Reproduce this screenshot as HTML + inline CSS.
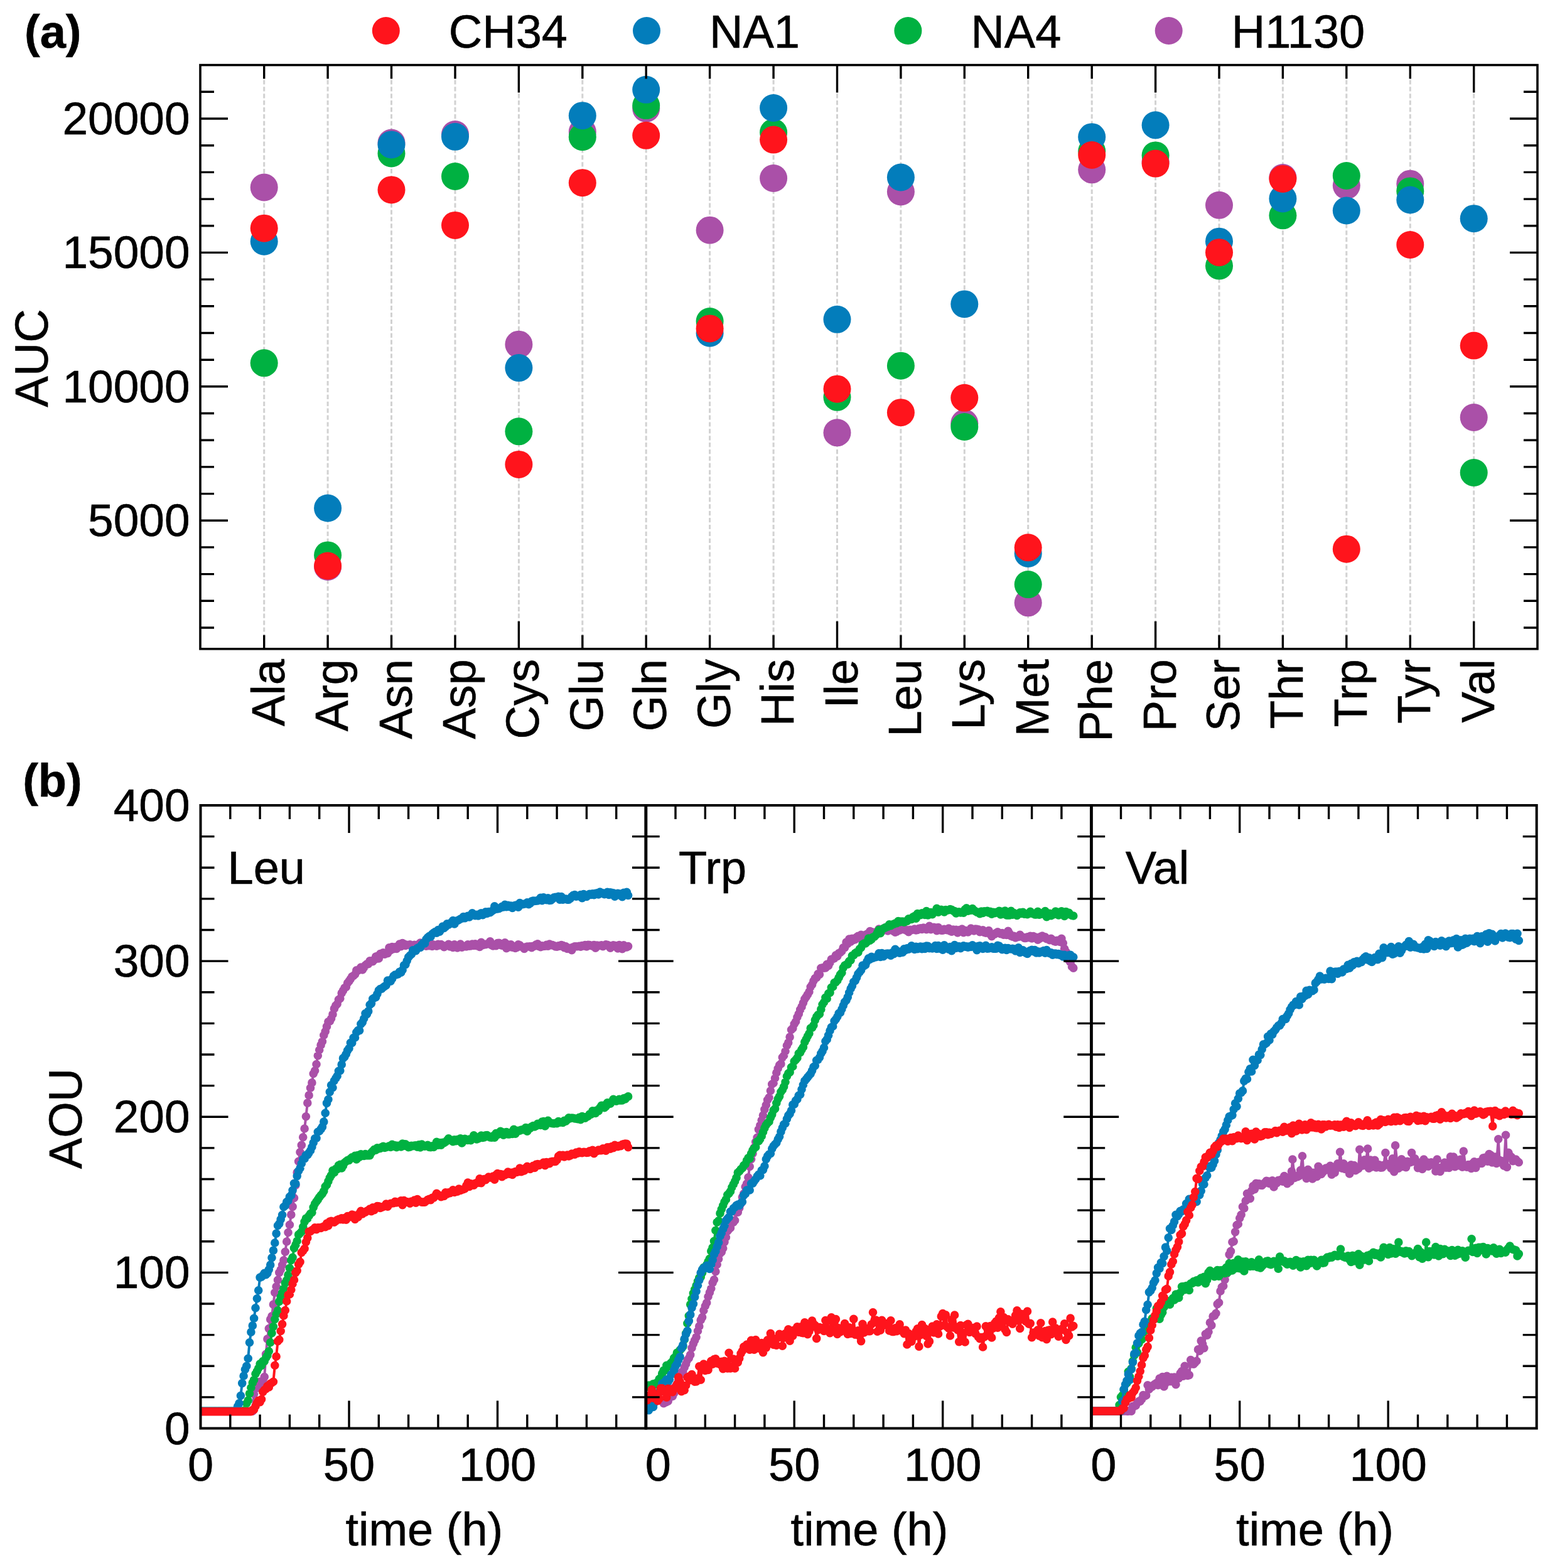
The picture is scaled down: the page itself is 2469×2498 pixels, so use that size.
<!DOCTYPE html>
<html><head><meta charset="utf-8"><title>AUC and AOU plots</title>
<style>html,body{margin:0;padding:0;background:#fff;}body{width:2469px;height:2498px;overflow:hidden;}svg{display:block;}</style>
</head><body>
<svg width="2469" height="2498" viewBox="0 0 2469 2498" font-family="'Liberation Sans', Arial, Helvetica, sans-serif" font-size="74" fill="#000"><defs><style>text{stroke:#000;stroke-width:0.6px}</style><clipPath id="c0"><rect x="319.5" y="1283" width="709.5" height="992.5"/></clipPath><clipPath id="c1"><rect x="1028.7" y="1283" width="709.5" height="992.5"/></clipPath><clipPath id="c2"><rect x="1738.2" y="1283" width="709.5" height="992.5"/></clipPath></defs><rect width="2469" height="2498" fill="#fff"/><path d="M420.7 105.6V1031.8M522.1 105.6V1031.8M623.5 105.6V1031.8M725 105.6V1031.8M826.4 105.6V1031.8M927.8 105.6V1031.8M1029.2 105.6V1031.8M1130.6 105.6V1031.8M1232.1 105.6V1031.8M1333.5 105.6V1031.8M1434.9 105.6V1031.8M1536.3 105.6V1031.8M1637.7 105.6V1031.8M1739.2 105.6V1031.8M1840.6 105.6V1031.8M1942 105.6V1031.8M2043.4 105.6V1031.8M2144.8 105.6V1031.8M2246.3 105.6V1031.8M2347.7 105.6V1031.8" stroke="#d2d2d2" stroke-width="3" stroke-dasharray="7.2 3.7" fill="none"/><g fill="#aa50a8"><circle cx="420.7" cy="298.5" r="22"/><circle cx="522.1" cy="903" r="22"/><circle cx="623.5" cy="227.5" r="22"/><circle cx="725" cy="214" r="22"/><circle cx="826.4" cy="548.7" r="22"/><circle cx="927.8" cy="210" r="22"/><circle cx="1029.2" cy="173" r="22"/><circle cx="1130.6" cy="366.7" r="22"/><circle cx="1232.1" cy="284" r="22"/><circle cx="1333.5" cy="689.3" r="22"/><circle cx="1434.9" cy="305.4" r="22"/><circle cx="1536.3" cy="674.2" r="22"/><circle cx="1637.7" cy="960.3" r="22"/><circle cx="1739.2" cy="270.3" r="22"/><circle cx="1840.6" cy="258" r="22"/><circle cx="1942" cy="326.8" r="22"/><circle cx="2043.4" cy="283" r="22"/><circle cx="2144.8" cy="295.6" r="22"/><circle cx="2246.3" cy="292.7" r="22"/><circle cx="2347.7" cy="665" r="22"/></g><g fill="#00b141"><circle cx="420.7" cy="578.3" r="22"/><circle cx="522.1" cy="884.4" r="22"/><circle cx="623.5" cy="244.5" r="22"/><circle cx="725" cy="281" r="22"/><circle cx="826.4" cy="687.3" r="22"/><circle cx="927.8" cy="218.2" r="22"/><circle cx="1029.2" cy="168.1" r="22"/><circle cx="1130.6" cy="512" r="22"/><circle cx="1232.1" cy="211" r="22"/><circle cx="1333.5" cy="632.8" r="22"/><circle cx="1434.9" cy="582.7" r="22"/><circle cx="1536.3" cy="680" r="22"/><circle cx="1637.7" cy="931.1" r="22"/><circle cx="1739.2" cy="241" r="22"/><circle cx="1840.6" cy="247.4" r="22"/><circle cx="1942" cy="423.6" r="22"/><circle cx="2043.4" cy="343.3" r="22"/><circle cx="2144.8" cy="280" r="22"/><circle cx="2246.3" cy="304.4" r="22"/><circle cx="2347.7" cy="753" r="22"/></g><g fill="#037dbb"><circle cx="420.7" cy="384.7" r="22"/><circle cx="522.1" cy="809.5" r="22"/><circle cx="623.5" cy="230.4" r="22"/><circle cx="725" cy="217.8" r="22"/><circle cx="826.4" cy="586.1" r="22"/><circle cx="927.8" cy="184.2" r="22"/><circle cx="1029.2" cy="142.8" r="22"/><circle cx="1130.6" cy="530.7" r="22"/><circle cx="1232.1" cy="172" r="22"/><circle cx="1333.5" cy="508.8" r="22"/><circle cx="1434.9" cy="282.5" r="22"/><circle cx="1536.3" cy="484.4" r="22"/><circle cx="1637.7" cy="882" r="22"/><circle cx="1739.2" cy="218.2" r="22"/><circle cx="1840.6" cy="199.3" r="22"/><circle cx="1942" cy="384.7" r="22"/><circle cx="2043.4" cy="316.5" r="22"/><circle cx="2144.8" cy="335.5" r="22"/><circle cx="2246.3" cy="318.5" r="22"/><circle cx="2347.7" cy="348.2" r="22"/></g><g fill="#ff141c"><circle cx="420.7" cy="363.7" r="22"/><circle cx="522.1" cy="901.5" r="22"/><circle cx="623.5" cy="302.4" r="22"/><circle cx="725" cy="358.9" r="22"/><circle cx="826.4" cy="739.9" r="22"/><circle cx="927.8" cy="291.2" r="22"/><circle cx="1029.2" cy="215.8" r="22"/><circle cx="1130.6" cy="523.4" r="22"/><circle cx="1232.1" cy="222.6" r="22"/><circle cx="1333.5" cy="619.7" r="22"/><circle cx="1434.9" cy="657.2" r="22"/><circle cx="1536.3" cy="633.8" r="22"/><circle cx="1637.7" cy="872.3" r="22"/><circle cx="1739.2" cy="247" r="22"/><circle cx="1840.6" cy="260.6" r="22"/><circle cx="1942" cy="402.2" r="22"/><circle cx="2043.4" cy="284.9" r="22"/><circle cx="2144.8" cy="874.7" r="22"/><circle cx="2246.3" cy="390" r="22"/><circle cx="2347.7" cy="550.6" r="22"/></g><path d="M420.7 103.6v22M420.7 1033.8v-22M522.1 103.6v22M522.1 1033.8v-22M623.5 103.6v22M623.5 1033.8v-22M725 103.6v22M725 1033.8v-22M826.4 103.6v44M826.4 1033.8v-44M927.8 103.6v22M927.8 1033.8v-22M1029.2 103.6v22M1029.2 1033.8v-22M1130.6 103.6v22M1130.6 1033.8v-22M1232.1 103.6v22M1232.1 1033.8v-22M1333.5 103.6v44M1333.5 1033.8v-44M1434.9 103.6v22M1434.9 1033.8v-22M1536.3 103.6v22M1536.3 1033.8v-22M1637.7 103.6v22M1637.7 1033.8v-22M1739.2 103.6v22M1739.2 1033.8v-22M1840.6 103.6v44M1840.6 1033.8v-44M1942 103.6v22M1942 1033.8v-22M2043.4 103.6v22M2043.4 1033.8v-22M2144.8 103.6v22M2144.8 1033.8v-22M2246.3 103.6v22M2246.3 1033.8v-22M2347.7 103.6v44M2347.7 1033.8v-44M319 1000h22M2449 1000h-22M319 957.3h22M2449 957.3h-22M319 914.6h22M2449 914.6h-22M319 871.9h22M2449 871.9h-22M319 829.3h44M2449 829.3h-44M319 786.6h22M2449 786.6h-22M319 743.9h22M2449 743.9h-22M319 701.2h22M2449 701.2h-22M319 658.5h22M2449 658.5h-22M319 615.8h44M2449 615.8h-44M319 573.2h22M2449 573.2h-22M319 530.5h22M2449 530.5h-22M319 487.8h22M2449 487.8h-22M319 445.1h22M2449 445.1h-22M319 402.4h44M2449 402.4h-44M319 359.7h22M2449 359.7h-22M319 317.1h22M2449 317.1h-22M319 274.4h22M2449 274.4h-22M319 231.7h22M2449 231.7h-22M319 189h44M2449 189h-44M319 146.3h22M2449 146.3h-22" stroke="#000" stroke-width="3.4" fill="none"/><rect x="319" y="103.6" width="2130" height="930.2" fill="none" stroke="#000" stroke-width="3.6"/><text x="302.5" y="828.8" text-anchor="end" dominant-baseline="central" font-size="73">5000</text><text x="302.5" y="615.3" text-anchor="end" dominant-baseline="central" font-size="73">10000</text><text x="302.5" y="401.9" text-anchor="end" dominant-baseline="central" font-size="73">15000</text><text x="302.5" y="188.5" text-anchor="end" dominant-baseline="central" font-size="73">20000</text><text transform="translate(452.7 1050) rotate(-90)" text-anchor="end">Ala</text><text transform="translate(554.1 1050) rotate(-90)" text-anchor="end">Arg</text><text transform="translate(655.5 1050) rotate(-90)" text-anchor="end">Asn</text><text transform="translate(757 1050) rotate(-90)" text-anchor="end">Asp</text><text transform="translate(858.4 1050) rotate(-90)" text-anchor="end">Cys</text><text transform="translate(959.8 1050) rotate(-90)" text-anchor="end">Glu</text><text transform="translate(1061.2 1050) rotate(-90)" text-anchor="end">Gln</text><text transform="translate(1162.6 1050) rotate(-90)" text-anchor="end">Gly</text><text transform="translate(1264.1 1050) rotate(-90)" text-anchor="end">His</text><text transform="translate(1365.5 1050) rotate(-90)" text-anchor="end">Ile</text><text transform="translate(1466.9 1050) rotate(-90)" text-anchor="end">Leu</text><text transform="translate(1568.3 1050) rotate(-90)" text-anchor="end">Lys</text><text transform="translate(1669.7 1050) rotate(-90)" text-anchor="end">Met</text><text transform="translate(1771.2 1050) rotate(-90)" text-anchor="end">Phe</text><text transform="translate(1872.6 1050) rotate(-90)" text-anchor="end">Pro</text><text transform="translate(1974 1050) rotate(-90)" text-anchor="end">Ser</text><text transform="translate(2075.4 1050) rotate(-90)" text-anchor="end">Thr</text><text transform="translate(2176.8 1050) rotate(-90)" text-anchor="end">Trp</text><text transform="translate(2278.3 1050) rotate(-90)" text-anchor="end">Tyr</text><text transform="translate(2379.7 1050) rotate(-90)" text-anchor="end">Val</text><text transform="translate(76.4 570.5) rotate(-90)" text-anchor="middle">AUC</text><text x="39" y="76" font-weight="bold">(a)</text><circle cx="614.8" cy="49" r="22" fill="#ff141c"/><text x="714.8" y="76">CH34</text><circle cx="1030" cy="49" r="22" fill="#037dbb"/><text x="1130" y="76">NA1</text><circle cx="1446.4" cy="49" r="22" fill="#00b141"/><text x="1546.4" y="76">NA4</text><circle cx="1861.7" cy="49" r="22" fill="#aa50a8"/><text x="1961.7" y="76">H1130</text><g clip-path="url(#c0)"><path d="M319.5 2248.2L321.9 2248.2L324.2 2248.2L326.6 2248.2L329 2248.2L331.3 2248.2L333.7 2248.2L336.1 2248.2L338.4 2248.2L340.8 2248.2L343.1 2248.2L345.5 2248.2L347.9 2248.2L350.2 2248.2L352.6 2248.2L355 2248.2L357.3 2248.2L359.7 2248.2L362.1 2248.2L364.4 2248.2L366.8 2248.2L369.2 2248.2L371.5 2248.2L373.9 2248.2L376.3 2248.2L378.6 2248.2L381 2248.2L383.4 2248.2L385.7 2248.2L388.1 2248.2L390.4 2248.2L392.8 2248.2L395.2 2248.2L397.5 2248.2L399.9 2248.2L402.3 2248.2L404.6 2220.7L407 2212.7L409.4 2210.9L411.7 2206L414.1 2201.4L416.5 2203.9L418.8 2199.9L421.2 2193.6L423.6 2157.4L425.9 2133.1L428.3 2116.6L430.7 2101.9L433 2096.7L435.4 2078.1L437.8 2059.3L440.1 2049.7L442.5 2039.3L444.8 2027.4L447.2 2022.7L449.6 2015.2L451.9 2007.9L454.3 1994.2L456.7 1978L459 1963.5L461.4 1951.2L463.8 1935.1L466.1 1922.4L468.5 1908.5L470.9 1888.1L473.2 1867.9L475.6 1850.3L478 1835.5L480.3 1824.4L482.7 1811.8L485.1 1798L487.4 1778.7L489.8 1757.1L492.1 1744.9L494.5 1733.2L496.9 1724.9L499.2 1710.5L501.6 1705.8L504 1695.5L506.3 1681.7L508.7 1672.8L511.1 1664.9L513.4 1659.3L515.8 1649.2L518.2 1643.3L520.5 1635.4L522.9 1627.7L525.3 1626.9L527.6 1622.8L530 1615.9L532.4 1606.9L534.7 1602L537.1 1599.5L539.4 1592.6L541.8 1590.7L544.2 1582.1L546.5 1578.1L548.9 1573.9L551.3 1572.5L553.6 1566L556 1563.1L558.4 1559.6L560.7 1555.8L563.1 1554.5L565.5 1552.2L567.8 1545.8L570.2 1546.2L572.6 1543.9L574.9 1541L577.3 1544.9L579.7 1541.5L582 1537.9L584.4 1535.8L586.7 1535.6L589.1 1530.9L591.5 1530.7L593.8 1531.6L596.2 1529.2L598.6 1524.1L600.9 1523.4L603.3 1526.9L605.7 1519.6L608 1520.2L610.4 1517.8L612.8 1520.1L615.1 1518.6L617.5 1518.7L619.9 1509.8L622.2 1513.6L624.6 1508.6L627 1511.7L629.3 1508.8L631.7 1511.4L634 1507.7L636.4 1504.1L638.8 1507.7L641.1 1502.6L643.5 1503.8L645.9 1506.4L648.2 1505.3L650.6 1505.3L653 1504.7L655.3 1505.8L657.7 1506.5L660.1 1505.3L662.4 1506.5L664.8 1506.7L667.2 1504L669.5 1502.1L671.9 1507.1L674.2 1504.4L676.6 1506.1L679 1507.1L681.3 1503.8L683.7 1506.8L686.1 1502.9L688.4 1507.5L690.8 1505.1L693.2 1506.2L695.5 1507.1L697.9 1504.4L700.3 1506L702.6 1504.6L705 1506.2L707.4 1508.6L709.7 1506.7L712.1 1506.4L714.5 1504.4L716.8 1507.9L719.2 1506.1L721.5 1509.5L723.9 1504.9L726.3 1508.5L728.6 1510L731 1506.5L733.4 1504.1L735.7 1509.1L738.1 1508L740.5 1507.2L742.8 1507.9L745.2 1504.9L747.6 1507.2L749.9 1506.9L752.3 1504.1L754.7 1506.5L757 1503.9L759.4 1506.6L761.8 1507.1L764.1 1508.5L766.5 1501.3L768.9 1505.7L771.2 1504.3L773.6 1504.6L775.9 1503.8L778.3 1503.8L780.7 1499.9L783 1505.8L785.4 1506.9L787.8 1506L790.1 1506.7L792.5 1502.5L794.9 1502.2L797.2 1505.5L799.6 1506.3L802 1504.6L804.3 1501.7L806.7 1510.8L809.1 1504.9L811.4 1508.6L813.8 1504.7L816.2 1509.2L818.5 1507.9L820.9 1510.5L823.2 1509.5L825.6 1504.7L828 1505.7L830.3 1508.1L832.7 1509.2L835.1 1511.5L837.4 1508.7L839.8 1508.1L842.2 1508L844.5 1507.8L846.9 1509.6L849.3 1507.3L851.6 1507.2L854 1504.7L856.4 1503.7L858.7 1507.7L861.1 1508.7L863.5 1506.9L865.8 1507.4L868.2 1507.1L870.5 1505.4L872.9 1507.2L875.3 1504L877.6 1505.8L880 1505.5L882.4 1506.6L884.7 1507.9L887.1 1508.2L889.5 1506.7L891.8 1507.1L894.2 1505.6L896.6 1506.4L898.9 1509.7L901.3 1507.7L903.7 1511.4L906 1510.7L908.4 1510.4L910.8 1513.7L913.1 1508.8L915.5 1507.9L917.8 1507.8L920.2 1507.8L922.6 1507.3L924.9 1508.2L927.3 1506.5L929.7 1506.9L932 1505.5L934.4 1508L936.8 1505.2L939.1 1505.5L941.5 1506.4L943.9 1507.3L946.2 1505.6L948.6 1510.2L951 1506.1L953.3 1506.6L955.7 1506.4L958.1 1505.9L960.4 1507.6L962.8 1506.5L965.1 1504.7L967.5 1505.4L969.9 1506.3L972.2 1510.3L974.6 1506.8L977 1505.8L979.3 1506.2L981.7 1507.6L984.1 1511L986.4 1505.6L988.8 1507.4L991.2 1511.7L993.5 1505.7L995.9 1509.3L998.3 1508.9L1000.6 1507.6" stroke="#aa50a8" stroke-width="4" fill="none" stroke-linejoin="round"/><path d="M319.5 2248.2h0M321.9 2248.2h0M324.2 2248.2h0M326.6 2248.2h0M329 2248.2h0M331.3 2248.2h0M333.7 2248.2h0M336.1 2248.2h0M338.4 2248.2h0M340.8 2248.2h0M343.1 2248.2h0M345.5 2248.2h0M347.9 2248.2h0M350.2 2248.2h0M352.6 2248.2h0M355 2248.2h0M357.3 2248.2h0M359.7 2248.2h0M362.1 2248.2h0M364.4 2248.2h0M366.8 2248.2h0M369.2 2248.2h0M371.5 2248.2h0M373.9 2248.2h0M376.3 2248.2h0M378.6 2248.2h0M381 2248.2h0M383.4 2248.2h0M385.7 2248.2h0M388.1 2248.2h0M390.4 2248.2h0M392.8 2248.2h0M395.2 2248.2h0M397.5 2248.2h0M399.9 2248.2h0M402.3 2248.2h0M404.6 2220.7h0M407 2212.7h0M409.4 2210.9h0M411.7 2206h0M414.1 2201.4h0M416.5 2203.9h0M418.8 2199.9h0M421.2 2193.6h0M423.6 2157.4h0M425.9 2133.1h0M428.3 2116.6h0M430.7 2101.9h0M433 2096.7h0M435.4 2078.1h0M437.8 2059.3h0M440.1 2049.7h0M442.5 2039.3h0M444.8 2027.4h0M447.2 2022.7h0M449.6 2015.2h0M451.9 2007.9h0M454.3 1994.2h0M456.7 1978h0M459 1963.5h0M461.4 1951.2h0M463.8 1935.1h0M466.1 1922.4h0M468.5 1908.5h0M470.9 1888.1h0M473.2 1867.9h0M475.6 1850.3h0M478 1835.5h0M480.3 1824.4h0M482.7 1811.8h0M485.1 1798h0M487.4 1778.7h0M489.8 1757.1h0M492.1 1744.9h0M494.5 1733.2h0M496.9 1724.9h0M499.2 1710.5h0M501.6 1705.8h0M504 1695.5h0M506.3 1681.7h0M508.7 1672.8h0M511.1 1664.9h0M513.4 1659.3h0M515.8 1649.2h0M518.2 1643.3h0M520.5 1635.4h0M522.9 1627.7h0M525.3 1626.9h0M527.6 1622.8h0M530 1615.9h0M532.4 1606.9h0M534.7 1602h0M537.1 1599.5h0M539.4 1592.6h0M541.8 1590.7h0M544.2 1582.1h0M546.5 1578.1h0M548.9 1573.9h0M551.3 1572.5h0M553.6 1566h0M556 1563.1h0M558.4 1559.6h0M560.7 1555.8h0M563.1 1554.5h0M565.5 1552.2h0M567.8 1545.8h0M570.2 1546.2h0M572.6 1543.9h0M574.9 1541h0M577.3 1544.9h0M579.7 1541.5h0M582 1537.9h0M584.4 1535.8h0M586.7 1535.6h0M589.1 1530.9h0M591.5 1530.7h0M593.8 1531.6h0M596.2 1529.2h0M598.6 1524.1h0M600.9 1523.4h0M603.3 1526.9h0M605.7 1519.6h0M608 1520.2h0M610.4 1517.8h0M612.8 1520.1h0M615.1 1518.6h0M617.5 1518.7h0M619.9 1509.8h0M622.2 1513.6h0M624.6 1508.6h0M627 1511.7h0M629.3 1508.8h0M631.7 1511.4h0M634 1507.7h0M636.4 1504.1h0M638.8 1507.7h0M641.1 1502.6h0M643.5 1503.8h0M645.9 1506.4h0M648.2 1505.3h0M650.6 1505.3h0M653 1504.7h0M655.3 1505.8h0M657.7 1506.5h0M660.1 1505.3h0M662.4 1506.5h0M664.8 1506.7h0M667.2 1504h0M669.5 1502.1h0M671.9 1507.1h0M674.2 1504.4h0M676.6 1506.1h0M679 1507.1h0M681.3 1503.8h0M683.7 1506.8h0M686.1 1502.9h0M688.4 1507.5h0M690.8 1505.1h0M693.2 1506.2h0M695.5 1507.1h0M697.9 1504.4h0M700.3 1506h0M702.6 1504.6h0M705 1506.2h0M707.4 1508.6h0M709.7 1506.7h0M712.1 1506.4h0M714.5 1504.4h0M716.8 1507.9h0M719.2 1506.1h0M721.5 1509.5h0M723.9 1504.9h0M726.3 1508.5h0M728.6 1510h0M731 1506.5h0M733.4 1504.1h0M735.7 1509.1h0M738.1 1508h0M740.5 1507.2h0M742.8 1507.9h0M745.2 1504.9h0M747.6 1507.2h0M749.9 1506.9h0M752.3 1504.1h0M754.7 1506.5h0M757 1503.9h0M759.4 1506.6h0M761.8 1507.1h0M764.1 1508.5h0M766.5 1501.3h0M768.9 1505.7h0M771.2 1504.3h0M773.6 1504.6h0M775.9 1503.8h0M778.3 1503.8h0M780.7 1499.9h0M783 1505.8h0M785.4 1506.9h0M787.8 1506h0M790.1 1506.7h0M792.5 1502.5h0M794.9 1502.2h0M797.2 1505.5h0M799.6 1506.3h0M802 1504.6h0M804.3 1501.7h0M806.7 1510.8h0M809.1 1504.9h0M811.4 1508.6h0M813.8 1504.7h0M816.2 1509.2h0M818.5 1507.9h0M820.9 1510.5h0M823.2 1509.5h0M825.6 1504.7h0M828 1505.7h0M830.3 1508.1h0M832.7 1509.2h0M835.1 1511.5h0M837.4 1508.7h0M839.8 1508.1h0M842.2 1508h0M844.5 1507.8h0M846.9 1509.6h0M849.3 1507.3h0M851.6 1507.2h0M854 1504.7h0M856.4 1503.7h0M858.7 1507.7h0M861.1 1508.7h0M863.5 1506.9h0M865.8 1507.4h0M868.2 1507.1h0M870.5 1505.4h0M872.9 1507.2h0M875.3 1504h0M877.6 1505.8h0M880 1505.5h0M882.4 1506.6h0M884.7 1507.9h0M887.1 1508.2h0M889.5 1506.7h0M891.8 1507.1h0M894.2 1505.6h0M896.6 1506.4h0M898.9 1509.7h0M901.3 1507.7h0M903.7 1511.4h0M906 1510.7h0M908.4 1510.4h0M910.8 1513.7h0M913.1 1508.8h0M915.5 1507.9h0M917.8 1507.8h0M920.2 1507.8h0M922.6 1507.3h0M924.9 1508.2h0M927.3 1506.5h0M929.7 1506.9h0M932 1505.5h0M934.4 1508h0M936.8 1505.2h0M939.1 1505.5h0M941.5 1506.4h0M943.9 1507.3h0M946.2 1505.6h0M948.6 1510.2h0M951 1506.1h0M953.3 1506.6h0M955.7 1506.4h0M958.1 1505.9h0M960.4 1507.6h0M962.8 1506.5h0M965.1 1504.7h0M967.5 1505.4h0M969.9 1506.3h0M972.2 1510.3h0M974.6 1506.8h0M977 1505.8h0M979.3 1506.2h0M981.7 1507.6h0M984.1 1511h0M986.4 1505.6h0M988.8 1507.4h0M991.2 1511.7h0M993.5 1505.7h0M995.9 1509.3h0M998.3 1508.9h0M1000.6 1507.6h0" stroke="#aa50a8" stroke-width="13.6" stroke-linecap="round" fill="none"/><path d="M319.5 2248.2L321.9 2248.2L324.2 2248.2L326.6 2248.2L329 2248.2L331.3 2248.2L333.7 2248.2L336.1 2248.2L338.4 2248.2L340.8 2248.2L343.1 2248.2L345.5 2248.2L347.9 2248.2L350.2 2248.2L352.6 2248.2L355 2248.2L357.3 2248.2L359.7 2248.2L362.1 2248.2L364.4 2248.2L366.8 2248.2L369.2 2248.2L371.5 2248.2L373.9 2248.2L376.3 2248.2L378.6 2248.2L381 2248.2L383.4 2248.2L385.7 2248.2L388.1 2248.2L390.4 2246.3L392.8 2235.7L395.2 2231.1L397.5 2220L399.9 2210.7L402.3 2202.9L404.6 2198.3L407 2188.8L409.4 2184.5L411.7 2179.8L414.1 2172.9L416.5 2175.4L418.8 2168.6L421.2 2168.8L423.6 2163L425.9 2159.4L428.3 2152.8L430.7 2138.7L433 2123.7L435.4 2113.5L437.8 2101.8L440.1 2093.8L442.5 2087.9L444.8 2073.4L447.2 2066L449.6 2059.5L451.9 2052.8L454.3 2044.1L456.7 2039.6L459 2031.1L461.4 2020.2L463.8 2007.7L466.1 2003.3L468.5 1988.4L470.9 1983.1L473.2 1977L475.6 1966.9L478 1964.8L480.3 1962.2L482.7 1954.6L485.1 1946.4L487.4 1941.1L489.8 1941.1L492.1 1937L494.5 1933.5L496.9 1931.8L499.2 1923.4L501.6 1917.8L504 1914.3L506.3 1911.1L508.7 1907.2L511.1 1904.2L513.4 1901.7L515.8 1897.6L518.2 1890.4L520.5 1887.8L522.9 1881.9L525.3 1876.2L527.6 1872.4L530 1864.8L532.4 1867.9L534.7 1862.3L537.1 1862.7L539.4 1856.6L541.8 1855.3L544.2 1861L546.5 1857.3L548.9 1852.3L551.3 1850.2L553.6 1848.5L556 1848.4L558.4 1845.7L560.7 1843.9L563.1 1844.3L565.5 1841.2L567.8 1847L570.2 1840.6L572.6 1843.3L574.9 1838.8L577.3 1840.6L579.7 1841.5L582 1838.6L584.4 1840.7L586.7 1840.1L589.1 1840.6L591.5 1836.3L593.8 1833.9L596.2 1831.3L598.6 1832.3L600.9 1828.8L603.3 1829.9L605.7 1829.5L608 1827.6L610.4 1826.2L612.8 1828.5L615.1 1827.7L617.5 1826.9L619.9 1825.9L622.2 1827.4L624.6 1823.4L627 1826.3L629.3 1824.8L631.7 1827.6L634 1825.4L636.4 1825.3L638.8 1826.9L641.1 1822.1L643.5 1825.5L645.9 1822.9L648.2 1824.6L650.6 1827.8L653 1827.1L655.3 1825.3L657.7 1825.6L660.1 1825L662.4 1824.9L664.8 1827.3L667.2 1823.9L669.5 1827.9L671.9 1823.1L674.2 1825.8L676.6 1826.2L679 1825.4L681.3 1824.3L683.7 1827.4L686.1 1827.7L688.4 1825.9L690.8 1827.4L693.2 1824.8L695.5 1819.3L697.9 1824.2L700.3 1820.6L702.6 1824.2L705 1820.3L707.4 1820.7L709.7 1819.1L712.1 1816.9L714.5 1813.7L716.8 1816.4L719.2 1816.4L721.5 1818.7L723.9 1815.8L726.3 1817.6L728.6 1815.6L731 1817.4L733.4 1813.8L735.7 1821L738.1 1817.3L740.5 1814.4L742.8 1816.2L745.2 1816.5L747.6 1815L749.9 1816.8L752.3 1813.6L754.7 1808.7L757 1810.9L759.4 1814.9L761.8 1813.9L764.1 1812.4L766.5 1809.1L768.9 1812.4L771.2 1812L773.6 1808.7L775.9 1808.6L778.3 1810.9L780.7 1812L783 1812.3L785.4 1809.9L787.8 1812.2L790.1 1805.6L792.5 1807.8L794.9 1805.3L797.2 1802.3L799.6 1803.6L802 1808.2L804.3 1804.1L806.7 1803.5L809.1 1807L811.4 1806.9L813.8 1804.4L816.2 1806.4L818.5 1799.3L820.9 1806.2L823.2 1803.1L825.6 1801.3L828 1801.1L830.3 1800.1L832.7 1799.6L835.1 1800L837.4 1796.6L839.8 1802.3L842.2 1797.1L844.5 1797.5L846.9 1794.8L849.3 1793.6L851.6 1795L854 1793.7L856.4 1790.2L858.7 1790.7L861.1 1792.5L863.5 1787L865.8 1786.5L868.2 1793.9L870.5 1790.2L872.9 1785.4L875.3 1788.4L877.6 1789.1L880 1789.6L882.4 1790L884.7 1789.2L887.1 1789.6L889.5 1786.6L891.8 1788.2L894.2 1787.6L896.6 1788.4L898.9 1785.3L901.3 1786.2L903.7 1783.9L906 1780.8L908.4 1781.6L910.8 1781L913.1 1781.3L915.5 1781.9L917.8 1782.3L920.2 1782.6L922.6 1780.3L924.9 1783.7L927.3 1778.5L929.7 1780.6L932 1781.2L934.4 1779.4L936.8 1778.3L939.1 1775L941.5 1775.2L943.9 1769.9L946.2 1772.1L948.6 1773.4L951 1768.8L953.3 1769.9L955.7 1764.7L958.1 1761.4L960.4 1761.4L962.8 1764.6L965.1 1762.7L967.5 1756.7L969.9 1758.6L972.2 1758.2L974.6 1755.1L977 1751.4L979.3 1752.9L981.7 1754.3L984.1 1752.9L986.4 1751.4L988.8 1752.9L991.2 1752.9L993.5 1749.9L995.9 1750.9L998.3 1748.2L1000.6 1746.9" stroke="#00b141" stroke-width="4" fill="none" stroke-linejoin="round"/><path d="M319.5 2248.2h0M321.9 2248.2h0M324.2 2248.2h0M326.6 2248.2h0M329 2248.2h0M331.3 2248.2h0M333.7 2248.2h0M336.1 2248.2h0M338.4 2248.2h0M340.8 2248.2h0M343.1 2248.2h0M345.5 2248.2h0M347.9 2248.2h0M350.2 2248.2h0M352.6 2248.2h0M355 2248.2h0M357.3 2248.2h0M359.7 2248.2h0M362.1 2248.2h0M364.4 2248.2h0M366.8 2248.2h0M369.2 2248.2h0M371.5 2248.2h0M373.9 2248.2h0M376.3 2248.2h0M378.6 2248.2h0M381 2248.2h0M383.4 2248.2h0M385.7 2248.2h0M388.1 2248.2h0M390.4 2246.3h0M392.8 2235.7h0M395.2 2231.1h0M397.5 2220h0M399.9 2210.7h0M402.3 2202.9h0M404.6 2198.3h0M407 2188.8h0M409.4 2184.5h0M411.7 2179.8h0M414.1 2172.9h0M416.5 2175.4h0M418.8 2168.6h0M421.2 2168.8h0M423.6 2163h0M425.9 2159.4h0M428.3 2152.8h0M430.7 2138.7h0M433 2123.7h0M435.4 2113.5h0M437.8 2101.8h0M440.1 2093.8h0M442.5 2087.9h0M444.8 2073.4h0M447.2 2066h0M449.6 2059.5h0M451.9 2052.8h0M454.3 2044.1h0M456.7 2039.6h0M459 2031.1h0M461.4 2020.2h0M463.8 2007.7h0M466.1 2003.3h0M468.5 1988.4h0M470.9 1983.1h0M473.2 1977h0M475.6 1966.9h0M478 1964.8h0M480.3 1962.2h0M482.7 1954.6h0M485.1 1946.4h0M487.4 1941.1h0M489.8 1941.1h0M492.1 1937h0M494.5 1933.5h0M496.9 1931.8h0M499.2 1923.4h0M501.6 1917.8h0M504 1914.3h0M506.3 1911.1h0M508.7 1907.2h0M511.1 1904.2h0M513.4 1901.7h0M515.8 1897.6h0M518.2 1890.4h0M520.5 1887.8h0M522.9 1881.9h0M525.3 1876.2h0M527.6 1872.4h0M530 1864.8h0M532.4 1867.9h0M534.7 1862.3h0M537.1 1862.7h0M539.4 1856.6h0M541.8 1855.3h0M544.2 1861h0M546.5 1857.3h0M548.9 1852.3h0M551.3 1850.2h0M553.6 1848.5h0M556 1848.4h0M558.4 1845.7h0M560.7 1843.9h0M563.1 1844.3h0M565.5 1841.2h0M567.8 1847h0M570.2 1840.6h0M572.6 1843.3h0M574.9 1838.8h0M577.3 1840.6h0M579.7 1841.5h0M582 1838.6h0M584.4 1840.7h0M586.7 1840.1h0M589.1 1840.6h0M591.5 1836.3h0M593.8 1833.9h0M596.2 1831.3h0M598.6 1832.3h0M600.9 1828.8h0M603.3 1829.9h0M605.7 1829.5h0M608 1827.6h0M610.4 1826.2h0M612.8 1828.5h0M615.1 1827.7h0M617.5 1826.9h0M619.9 1825.9h0M622.2 1827.4h0M624.6 1823.4h0M627 1826.3h0M629.3 1824.8h0M631.7 1827.6h0M634 1825.4h0M636.4 1825.3h0M638.8 1826.9h0M641.1 1822.1h0M643.5 1825.5h0M645.9 1822.9h0M648.2 1824.6h0M650.6 1827.8h0M653 1827.1h0M655.3 1825.3h0M657.7 1825.6h0M660.1 1825h0M662.4 1824.9h0M664.8 1827.3h0M667.2 1823.9h0M669.5 1827.9h0M671.9 1823.1h0M674.2 1825.8h0M676.6 1826.2h0M679 1825.4h0M681.3 1824.3h0M683.7 1827.4h0M686.1 1827.7h0M688.4 1825.9h0M690.8 1827.4h0M693.2 1824.8h0M695.5 1819.3h0M697.9 1824.2h0M700.3 1820.6h0M702.6 1824.2h0M705 1820.3h0M707.4 1820.7h0M709.7 1819.1h0M712.1 1816.9h0M714.5 1813.7h0M716.8 1816.4h0M719.2 1816.4h0M721.5 1818.7h0M723.9 1815.8h0M726.3 1817.6h0M728.6 1815.6h0M731 1817.4h0M733.4 1813.8h0M735.7 1821h0M738.1 1817.3h0M740.5 1814.4h0M742.8 1816.2h0M745.2 1816.5h0M747.6 1815h0M749.9 1816.8h0M752.3 1813.6h0M754.7 1808.7h0M757 1810.9h0M759.4 1814.9h0M761.8 1813.9h0M764.1 1812.4h0M766.5 1809.1h0M768.9 1812.4h0M771.2 1812h0M773.6 1808.7h0M775.9 1808.6h0M778.3 1810.9h0M780.7 1812h0M783 1812.3h0M785.4 1809.9h0M787.8 1812.2h0M790.1 1805.6h0M792.5 1807.8h0M794.9 1805.3h0M797.2 1802.3h0M799.6 1803.6h0M802 1808.2h0M804.3 1804.1h0M806.7 1803.5h0M809.1 1807h0M811.4 1806.9h0M813.8 1804.4h0M816.2 1806.4h0M818.5 1799.3h0M820.9 1806.2h0M823.2 1803.1h0M825.6 1801.3h0M828 1801.1h0M830.3 1800.1h0M832.7 1799.6h0M835.1 1800h0M837.4 1796.6h0M839.8 1802.3h0M842.2 1797.1h0M844.5 1797.5h0M846.9 1794.8h0M849.3 1793.6h0M851.6 1795h0M854 1793.7h0M856.4 1790.2h0M858.7 1790.7h0M861.1 1792.5h0M863.5 1787h0M865.8 1786.5h0M868.2 1793.9h0M870.5 1790.2h0M872.9 1785.4h0M875.3 1788.4h0M877.6 1789.1h0M880 1789.6h0M882.4 1790h0M884.7 1789.2h0M887.1 1789.6h0M889.5 1786.6h0M891.8 1788.2h0M894.2 1787.6h0M896.6 1788.4h0M898.9 1785.3h0M901.3 1786.2h0M903.7 1783.9h0M906 1780.8h0M908.4 1781.6h0M910.8 1781h0M913.1 1781.3h0M915.5 1781.9h0M917.8 1782.3h0M920.2 1782.6h0M922.6 1780.3h0M924.9 1783.7h0M927.3 1778.5h0M929.7 1780.6h0M932 1781.2h0M934.4 1779.4h0M936.8 1778.3h0M939.1 1775h0M941.5 1775.2h0M943.9 1769.9h0M946.2 1772.1h0M948.6 1773.4h0M951 1768.8h0M953.3 1769.9h0M955.7 1764.7h0M958.1 1761.4h0M960.4 1761.4h0M962.8 1764.6h0M965.1 1762.7h0M967.5 1756.7h0M969.9 1758.6h0M972.2 1758.2h0M974.6 1755.1h0M977 1751.4h0M979.3 1752.9h0M981.7 1754.3h0M984.1 1752.9h0M986.4 1751.4h0M988.8 1752.9h0M991.2 1752.9h0M993.5 1749.9h0M995.9 1750.9h0M998.3 1748.2h0M1000.6 1746.9h0" stroke="#00b141" stroke-width="13.6" stroke-linecap="round" fill="none"/><path d="M319.5 2248.2L321.9 2248.2L324.2 2248.2L326.6 2248.2L329 2248.2L331.3 2248.2L333.7 2248.2L336.1 2248.2L338.4 2248.2L340.8 2248.2L343.1 2248.2L345.5 2248.2L347.9 2248.2L350.2 2248.2L352.6 2248.2L355 2248.2L357.3 2248.2L359.7 2248.2L362.1 2248.2L364.4 2248.2L366.8 2248.2L369.2 2248.2L371.5 2248.2L373.9 2248.2L376.3 2248.2L378.6 2240.6L381 2235.6L383.4 2223.5L385.7 2203.6L388.1 2192L390.4 2181.8L392.8 2176.3L395.2 2164.3L397.5 2138.8L399.9 2122.1L402.3 2111.9L404.6 2100.2L407 2083.8L409.4 2068.7L411.7 2055.8L414.1 2035.1L416.5 2034.3L418.8 2031.8L421.2 2028.3L423.6 2030.7L425.9 2028.5L428.3 2022.6L430.7 2015.1L433 2003.7L435.4 1992.1L437.8 1980L440.1 1965.1L442.5 1952.5L444.8 1949.6L447.2 1942.6L449.6 1935.5L451.9 1922.8L454.3 1920.7L456.7 1914.7L459 1912.9L461.4 1906.5L463.8 1904.3L466.1 1896.2L468.5 1885.3L470.9 1885.9L473.2 1873.6L475.6 1865.2L478 1861L480.3 1853.8L482.7 1846.8L485.1 1845.9L487.4 1840.3L489.8 1839.9L492.1 1836.6L494.5 1833L496.9 1827.3L499.2 1820.5L501.6 1813.8L504 1813.2L506.3 1803.2L508.7 1802L511.1 1798.9L513.4 1795.4L515.8 1787.1L518.2 1773.2L520.5 1757.4L522.9 1751.5L525.3 1739.6L527.6 1728.7L530 1732.7L532.4 1721.7L534.7 1718L537.1 1714.2L539.4 1706.2L541.8 1705.7L544.2 1695.9L546.5 1685.9L548.9 1683.6L551.3 1679.2L553.6 1673.6L556 1670.1L558.4 1661.2L560.7 1661.5L563.1 1653.2L565.5 1653L567.8 1644.5L570.2 1641.5L572.6 1641.7L574.9 1631.4L577.3 1628.6L579.7 1622.8L582 1614.5L584.4 1615.7L586.7 1610.9L589.1 1600.8L591.5 1598.6L593.8 1591.3L596.2 1589.9L598.6 1588.7L600.9 1583.5L603.3 1577.7L605.7 1575.5L608 1575.1L610.4 1573L612.8 1571.2L615.1 1569.8L617.5 1562.1L619.9 1563.4L622.2 1563.1L624.6 1559.3L627 1554.7L629.3 1553L631.7 1552.8L634 1552L636.4 1548.3L638.8 1549.1L641.1 1545.3L643.5 1537.7L645.9 1536.7L648.2 1530.8L650.6 1524.9L653 1522.2L655.3 1520.3L657.7 1513.7L660.1 1514.6L662.4 1514.8L664.8 1510.6L667.2 1509.2L669.5 1509.5L671.9 1504.9L674.2 1502.4L676.6 1502.9L679 1496.2L681.3 1493.5L683.7 1491.5L686.1 1492.1L688.4 1488L690.8 1486L693.2 1484.6L695.5 1486.1L697.9 1481.5L700.3 1484.1L702.6 1480.7L705 1476L707.4 1478.5L709.7 1476.5L712.1 1471.7L714.5 1473.3L716.8 1471.8L719.2 1469.4L721.5 1466.5L723.9 1471.9L726.3 1467.7L728.6 1466.6L731 1465.5L733.4 1464L735.7 1463.3L738.1 1460.6L740.5 1462.7L742.8 1460.4L745.2 1459.3L747.6 1461L749.9 1458.6L752.3 1454.9L754.7 1457.1L757 1458.8L759.4 1457.4L761.8 1458.9L764.1 1456.3L766.5 1454.7L768.9 1457.7L771.2 1456L773.6 1452.7L775.9 1455.1L778.3 1452.6L780.7 1453.7L783 1452L785.4 1450.1L787.8 1443.8L790.1 1448.3L792.5 1448L794.9 1447.5L797.2 1446.3L799.6 1444.3L802 1445L804.3 1441.2L806.7 1444.8L809.1 1442.2L811.4 1444.1L813.8 1443L816.2 1446.4L818.5 1443.1L820.9 1442.2L823.2 1441.9L825.6 1445.1L828 1438.6L830.3 1440.8L832.7 1440.7L835.1 1440.1L837.4 1439.7L839.8 1437.9L842.2 1440.6L844.5 1439.1L846.9 1435.7L849.3 1435.1L851.6 1435.4L854 1435.1L856.4 1435L858.7 1433L861.1 1430.3L863.5 1434.7L865.8 1429.7L868.2 1431.1L870.5 1433.6L872.9 1430.7L875.3 1434.4L877.6 1434.1L880 1432.3L882.4 1429.8L884.7 1429.2L887.1 1429.4L889.5 1428.3L891.8 1433.1L894.2 1428.6L896.6 1433.1L898.9 1432.2L901.3 1432L903.7 1433.3L906 1433.1L908.4 1431.4L910.8 1428.4L913.1 1426.2L915.5 1425.5L917.8 1428.1L920.2 1427.6L922.6 1428L924.9 1425.6L927.3 1430.8L929.7 1424.5L932 1428L934.4 1428.4L936.8 1426L939.1 1424.3L941.5 1425.4L943.9 1423.9L946.2 1425.6L948.6 1423.3L951 1422.8L953.3 1424.9L955.7 1421.1L958.1 1423.1L960.4 1422.9L962.8 1424.8L965.1 1423.6L967.5 1421.4L969.9 1425.5L972.2 1421.7L974.6 1422.4L977 1422.9L979.3 1428.2L981.7 1424.4L984.1 1423.2L986.4 1426L988.8 1424.1L991.2 1428.7L993.5 1422.3L995.9 1424.6L998.3 1421.3L1000.6 1426.5" stroke="#037dbb" stroke-width="4" fill="none" stroke-linejoin="round"/><path d="M319.5 2248.2h0M321.9 2248.2h0M324.2 2248.2h0M326.6 2248.2h0M329 2248.2h0M331.3 2248.2h0M333.7 2248.2h0M336.1 2248.2h0M338.4 2248.2h0M340.8 2248.2h0M343.1 2248.2h0M345.5 2248.2h0M347.9 2248.2h0M350.2 2248.2h0M352.6 2248.2h0M355 2248.2h0M357.3 2248.2h0M359.7 2248.2h0M362.1 2248.2h0M364.4 2248.2h0M366.8 2248.2h0M369.2 2248.2h0M371.5 2248.2h0M373.9 2248.2h0M376.3 2248.2h0M378.6 2240.6h0M381 2235.6h0M383.4 2223.5h0M385.7 2203.6h0M388.1 2192h0M390.4 2181.8h0M392.8 2176.3h0M395.2 2164.3h0M397.5 2138.8h0M399.9 2122.1h0M402.3 2111.9h0M404.6 2100.2h0M407 2083.8h0M409.4 2068.7h0M411.7 2055.8h0M414.1 2035.1h0M416.5 2034.3h0M418.8 2031.8h0M421.2 2028.3h0M423.6 2030.7h0M425.9 2028.5h0M428.3 2022.6h0M430.7 2015.1h0M433 2003.7h0M435.4 1992.1h0M437.8 1980h0M440.1 1965.1h0M442.5 1952.5h0M444.8 1949.6h0M447.2 1942.6h0M449.6 1935.5h0M451.9 1922.8h0M454.3 1920.7h0M456.7 1914.7h0M459 1912.9h0M461.4 1906.5h0M463.8 1904.3h0M466.1 1896.2h0M468.5 1885.3h0M470.9 1885.9h0M473.2 1873.6h0M475.6 1865.2h0M478 1861h0M480.3 1853.8h0M482.7 1846.8h0M485.1 1845.9h0M487.4 1840.3h0M489.8 1839.9h0M492.1 1836.6h0M494.5 1833h0M496.9 1827.3h0M499.2 1820.5h0M501.6 1813.8h0M504 1813.2h0M506.3 1803.2h0M508.7 1802h0M511.1 1798.9h0M513.4 1795.4h0M515.8 1787.1h0M518.2 1773.2h0M520.5 1757.4h0M522.9 1751.5h0M525.3 1739.6h0M527.6 1728.7h0M530 1732.7h0M532.4 1721.7h0M534.7 1718h0M537.1 1714.2h0M539.4 1706.2h0M541.8 1705.7h0M544.2 1695.9h0M546.5 1685.9h0M548.9 1683.6h0M551.3 1679.2h0M553.6 1673.6h0M556 1670.1h0M558.4 1661.2h0M560.7 1661.5h0M563.1 1653.2h0M565.5 1653h0M567.8 1644.5h0M570.2 1641.5h0M572.6 1641.7h0M574.9 1631.4h0M577.3 1628.6h0M579.7 1622.8h0M582 1614.5h0M584.4 1615.7h0M586.7 1610.9h0M589.1 1600.8h0M591.5 1598.6h0M593.8 1591.3h0M596.2 1589.9h0M598.6 1588.7h0M600.9 1583.5h0M603.3 1577.7h0M605.7 1575.5h0M608 1575.1h0M610.4 1573h0M612.8 1571.2h0M615.1 1569.8h0M617.5 1562.1h0M619.9 1563.4h0M622.2 1563.1h0M624.6 1559.3h0M627 1554.7h0M629.3 1553h0M631.7 1552.8h0M634 1552h0M636.4 1548.3h0M638.8 1549.1h0M641.1 1545.3h0M643.5 1537.7h0M645.9 1536.7h0M648.2 1530.8h0M650.6 1524.9h0M653 1522.2h0M655.3 1520.3h0M657.7 1513.7h0M660.1 1514.6h0M662.4 1514.8h0M664.8 1510.6h0M667.2 1509.2h0M669.5 1509.5h0M671.9 1504.9h0M674.2 1502.4h0M676.6 1502.9h0M679 1496.2h0M681.3 1493.5h0M683.7 1491.5h0M686.1 1492.1h0M688.4 1488h0M690.8 1486h0M693.2 1484.6h0M695.5 1486.1h0M697.9 1481.5h0M700.3 1484.1h0M702.6 1480.7h0M705 1476h0M707.4 1478.5h0M709.7 1476.5h0M712.1 1471.7h0M714.5 1473.3h0M716.8 1471.8h0M719.2 1469.4h0M721.5 1466.5h0M723.9 1471.9h0M726.3 1467.7h0M728.6 1466.6h0M731 1465.5h0M733.4 1464h0M735.7 1463.3h0M738.1 1460.6h0M740.5 1462.7h0M742.8 1460.4h0M745.2 1459.3h0M747.6 1461h0M749.9 1458.6h0M752.3 1454.9h0M754.7 1457.1h0M757 1458.8h0M759.4 1457.4h0M761.8 1458.9h0M764.1 1456.3h0M766.5 1454.7h0M768.9 1457.7h0M771.2 1456h0M773.6 1452.7h0M775.9 1455.1h0M778.3 1452.6h0M780.7 1453.7h0M783 1452h0M785.4 1450.1h0M787.8 1443.8h0M790.1 1448.3h0M792.5 1448h0M794.9 1447.5h0M797.2 1446.3h0M799.6 1444.3h0M802 1445h0M804.3 1441.2h0M806.7 1444.8h0M809.1 1442.2h0M811.4 1444.1h0M813.8 1443h0M816.2 1446.4h0M818.5 1443.1h0M820.9 1442.2h0M823.2 1441.9h0M825.6 1445.1h0M828 1438.6h0M830.3 1440.8h0M832.7 1440.7h0M835.1 1440.1h0M837.4 1439.7h0M839.8 1437.9h0M842.2 1440.6h0M844.5 1439.1h0M846.9 1435.7h0M849.3 1435.1h0M851.6 1435.4h0M854 1435.1h0M856.4 1435h0M858.7 1433h0M861.1 1430.3h0M863.5 1434.7h0M865.8 1429.7h0M868.2 1431.1h0M870.5 1433.6h0M872.9 1430.7h0M875.3 1434.4h0M877.6 1434.1h0M880 1432.3h0M882.4 1429.8h0M884.7 1429.2h0M887.1 1429.4h0M889.5 1428.3h0M891.8 1433.1h0M894.2 1428.6h0M896.6 1433.1h0M898.9 1432.2h0M901.3 1432h0M903.7 1433.3h0M906 1433.1h0M908.4 1431.4h0M910.8 1428.4h0M913.1 1426.2h0M915.5 1425.5h0M917.8 1428.1h0M920.2 1427.6h0M922.6 1428h0M924.9 1425.6h0M927.3 1430.8h0M929.7 1424.5h0M932 1428h0M934.4 1428.4h0M936.8 1426h0M939.1 1424.3h0M941.5 1425.4h0M943.9 1423.9h0M946.2 1425.6h0M948.6 1423.3h0M951 1422.8h0M953.3 1424.9h0M955.7 1421.1h0M958.1 1423.1h0M960.4 1422.9h0M962.8 1424.8h0M965.1 1423.6h0M967.5 1421.4h0M969.9 1425.5h0M972.2 1421.7h0M974.6 1422.4h0M977 1422.9h0M979.3 1428.2h0M981.7 1424.4h0M984.1 1423.2h0M986.4 1426h0M988.8 1424.1h0M991.2 1428.7h0M993.5 1422.3h0M995.9 1424.6h0M998.3 1421.3h0M1000.6 1426.5h0" stroke="#037dbb" stroke-width="13.6" stroke-linecap="round" fill="none"/><path d="M319.5 2248.7L321.9 2248.7L324.2 2248.7L326.6 2248.7L329 2248.7L331.3 2248.7L333.7 2248.7L336.1 2248.7L338.4 2248.7L340.8 2248.7L343.1 2248.7L345.5 2248.7L347.9 2248.7L350.2 2248.7L352.6 2248.7L355 2248.7L357.3 2248.7L359.7 2248.7L362.1 2248.7L364.4 2248.7L366.8 2248.7L369.2 2248.7L371.5 2248.7L373.9 2248.7L376.3 2248.7L378.6 2248.7L381 2248.7L383.4 2248.7L385.7 2248.7L388.1 2248.7L390.4 2248.7L392.8 2248.7L395.2 2248.7L397.5 2248.7L399.9 2248.7L402.3 2246.2L404.6 2245.8L407 2240.2L409.4 2235.3L411.7 2231.4L414.1 2233.8L416.5 2229.3L418.8 2217.4L421.2 2214.2L423.6 2212.6L425.9 2208.3L428.3 2210L430.7 2204.3L433 2203L435.4 2201.2L437.8 2175.3L440.1 2161L442.5 2136.7L444.8 2134.2L447.2 2120.5L449.6 2109.6L451.9 2095.9L454.3 2087.5L456.7 2073L459 2063L461.4 2062L463.8 2054.8L466.1 2045.1L468.5 2039L470.9 2027.4L473.2 2024.1L475.6 2014.3L478 2010.4L480.3 1995.5L482.7 1992.8L485.1 1989.3L487.4 1978.8L489.8 1972.1L492.1 1962.1L494.5 1961.7L496.9 1959.8L499.2 1958.2L501.6 1955.9L504 1958.7L506.3 1955.7L508.7 1955.8L511.1 1956.4L513.4 1954.7L515.8 1953.9L518.2 1954.7L520.5 1949.1L522.9 1952.7L525.3 1946.1L527.6 1945.3L530 1946.5L532.4 1947.1L534.7 1945.4L537.1 1943.5L539.4 1942.5L541.8 1942.8L544.2 1940.7L546.5 1943L548.9 1940.6L551.3 1943.2L553.6 1937.6L556 1938L558.4 1938.5L560.7 1935L563.1 1935.7L565.5 1942.5L567.8 1936.5L570.2 1938.9L572.6 1933.1L574.9 1929.2L577.3 1934L579.7 1931.6L582 1931.3L584.4 1929.4L586.7 1928.1L589.1 1926.1L591.5 1929.8L593.8 1923.8L596.2 1927.7L598.6 1924.3L600.9 1921.6L603.3 1921.7L605.7 1924.4L608 1923.4L610.4 1922.4L612.8 1921.1L615.1 1918.1L617.5 1922.3L619.9 1918.2L622.2 1917.4L624.6 1917L627 1916.7L629.3 1914.3L631.7 1916L634 1915.1L636.4 1915.5L638.8 1912.7L641.1 1919.6L643.5 1912.6L645.9 1915.1L648.2 1914.6L650.6 1915.7L653 1917.2L655.3 1914.1L657.7 1914.5L660.1 1912.1L662.4 1916.1L664.8 1910.5L667.2 1913L669.5 1914.3L671.9 1915.2L674.2 1915.1L676.6 1915.2L679 1913.3L681.3 1911.2L683.7 1910.4L686.1 1911.7L688.4 1908.2L690.8 1908.3L693.2 1905.3L695.5 1901.2L697.9 1903.2L700.3 1904.6L702.6 1906.7L705 1905.7L707.4 1905.5L709.7 1899.9L712.1 1902.1L714.5 1899.9L716.8 1900.7L719.2 1898.8L721.5 1895.8L723.9 1899.5L726.3 1898.2L728.6 1898.3L731 1894L733.4 1896.5L735.7 1895.4L738.1 1894.7L740.5 1893.6L742.8 1888.9L745.2 1884L747.6 1890.4L749.9 1885.8L752.3 1886.4L754.7 1888.1L757 1885.4L759.4 1884.2L761.8 1884.1L764.1 1877.9L766.5 1884.7L768.9 1879.4L771.2 1878.6L773.6 1879.6L775.9 1877.3L778.3 1875.1L780.7 1875.9L783 1875L785.4 1874.1L787.8 1879.1L790.1 1871.7L792.5 1869.5L794.9 1871.4L797.2 1870.6L799.6 1874.6L802 1871.3L804.3 1871.9L806.7 1870.7L809.1 1867.1L811.4 1870.1L813.8 1868.4L816.2 1871.5L818.5 1867.5L820.9 1866.5L823.2 1867.5L825.6 1866.8L828 1861L830.3 1866.6L832.7 1865.8L835.1 1865L837.4 1860.6L839.8 1858.3L842.2 1861.1L844.5 1862.4L846.9 1861L849.3 1857.3L851.6 1860.5L854 1855.1L856.4 1854.5L858.7 1856.4L861.1 1854.7L863.5 1854L865.8 1852L868.2 1856.7L870.5 1851.6L872.9 1853.9L875.3 1853.7L877.6 1850.9L880 1850.3L882.4 1850.5L884.7 1850.5L887.1 1848L889.5 1842.1L891.8 1840.2L894.2 1842L896.6 1840.2L898.9 1842.9L901.3 1841.4L903.7 1840L906 1842L908.4 1841L910.8 1838.1L913.1 1838.2L915.5 1839.2L917.8 1836.1L920.2 1837.3L922.6 1834.7L924.9 1836.4L927.3 1836.6L929.7 1835.3L932 1835.6L934.4 1836.5L936.8 1836.1L939.1 1833.9L941.5 1834L943.9 1832.4L946.2 1837.7L948.6 1834.5L951 1833.8L953.3 1832L955.7 1832.8L958.1 1832.6L960.4 1829.8L962.8 1830.8L965.1 1833.1L967.5 1827.7L969.9 1827.7L972.2 1830.1L974.6 1826.5L977 1828.8L979.3 1824.3L981.7 1826.2L984.1 1826.7L986.4 1825.3L988.8 1825.6L991.2 1823.2L993.5 1822.6L995.9 1822.1L998.3 1822.3L1000.6 1827.7" stroke="#ff141c" stroke-width="4" fill="none" stroke-linejoin="round"/><path d="M319.5 2248.7h0M321.9 2248.7h0M324.2 2248.7h0M326.6 2248.7h0M329 2248.7h0M331.3 2248.7h0M333.7 2248.7h0M336.1 2248.7h0M338.4 2248.7h0M340.8 2248.7h0M343.1 2248.7h0M345.5 2248.7h0M347.9 2248.7h0M350.2 2248.7h0M352.6 2248.7h0M355 2248.7h0M357.3 2248.7h0M359.7 2248.7h0M362.1 2248.7h0M364.4 2248.7h0M366.8 2248.7h0M369.2 2248.7h0M371.5 2248.7h0M373.9 2248.7h0M376.3 2248.7h0M378.6 2248.7h0M381 2248.7h0M383.4 2248.7h0M385.7 2248.7h0M388.1 2248.7h0M390.4 2248.7h0M392.8 2248.7h0M395.2 2248.7h0M397.5 2248.7h0M399.9 2248.7h0M402.3 2246.2h0M404.6 2245.8h0M407 2240.2h0M409.4 2235.3h0M411.7 2231.4h0M414.1 2233.8h0M416.5 2229.3h0M418.8 2217.4h0M421.2 2214.2h0M423.6 2212.6h0M425.9 2208.3h0M428.3 2210h0M430.7 2204.3h0M433 2203h0M435.4 2201.2h0M437.8 2175.3h0M440.1 2161h0M442.5 2136.7h0M444.8 2134.2h0M447.2 2120.5h0M449.6 2109.6h0M451.9 2095.9h0M454.3 2087.5h0M456.7 2073h0M459 2063h0M461.4 2062h0M463.8 2054.8h0M466.1 2045.1h0M468.5 2039h0M470.9 2027.4h0M473.2 2024.1h0M475.6 2014.3h0M478 2010.4h0M480.3 1995.5h0M482.7 1992.8h0M485.1 1989.3h0M487.4 1978.8h0M489.8 1972.1h0M492.1 1962.1h0M494.5 1961.7h0M496.9 1959.8h0M499.2 1958.2h0M501.6 1955.9h0M504 1958.7h0M506.3 1955.7h0M508.7 1955.8h0M511.1 1956.4h0M513.4 1954.7h0M515.8 1953.9h0M518.2 1954.7h0M520.5 1949.1h0M522.9 1952.7h0M525.3 1946.1h0M527.6 1945.3h0M530 1946.5h0M532.4 1947.1h0M534.7 1945.4h0M537.1 1943.5h0M539.4 1942.5h0M541.8 1942.8h0M544.2 1940.7h0M546.5 1943h0M548.9 1940.6h0M551.3 1943.2h0M553.6 1937.6h0M556 1938h0M558.4 1938.5h0M560.7 1935h0M563.1 1935.7h0M565.5 1942.5h0M567.8 1936.5h0M570.2 1938.9h0M572.6 1933.1h0M574.9 1929.2h0M577.3 1934h0M579.7 1931.6h0M582 1931.3h0M584.4 1929.4h0M586.7 1928.1h0M589.1 1926.1h0M591.5 1929.8h0M593.8 1923.8h0M596.2 1927.7h0M598.6 1924.3h0M600.9 1921.6h0M603.3 1921.7h0M605.7 1924.4h0M608 1923.4h0M610.4 1922.4h0M612.8 1921.1h0M615.1 1918.1h0M617.5 1922.3h0M619.9 1918.2h0M622.2 1917.4h0M624.6 1917h0M627 1916.7h0M629.3 1914.3h0M631.7 1916h0M634 1915.1h0M636.4 1915.5h0M638.8 1912.7h0M641.1 1919.6h0M643.5 1912.6h0M645.9 1915.1h0M648.2 1914.6h0M650.6 1915.7h0M653 1917.2h0M655.3 1914.1h0M657.7 1914.5h0M660.1 1912.1h0M662.4 1916.1h0M664.8 1910.5h0M667.2 1913h0M669.5 1914.3h0M671.9 1915.2h0M674.2 1915.1h0M676.6 1915.2h0M679 1913.3h0M681.3 1911.2h0M683.7 1910.4h0M686.1 1911.7h0M688.4 1908.2h0M690.8 1908.3h0M693.2 1905.3h0M695.5 1901.2h0M697.9 1903.2h0M700.3 1904.6h0M702.6 1906.7h0M705 1905.7h0M707.4 1905.5h0M709.7 1899.9h0M712.1 1902.1h0M714.5 1899.9h0M716.8 1900.7h0M719.2 1898.8h0M721.5 1895.8h0M723.9 1899.5h0M726.3 1898.2h0M728.6 1898.3h0M731 1894h0M733.4 1896.5h0M735.7 1895.4h0M738.1 1894.7h0M740.5 1893.6h0M742.8 1888.9h0M745.2 1884h0M747.6 1890.4h0M749.9 1885.8h0M752.3 1886.4h0M754.7 1888.1h0M757 1885.4h0M759.4 1884.2h0M761.8 1884.1h0M764.1 1877.9h0M766.5 1884.7h0M768.9 1879.4h0M771.2 1878.6h0M773.6 1879.6h0M775.9 1877.3h0M778.3 1875.1h0M780.7 1875.9h0M783 1875h0M785.4 1874.1h0M787.8 1879.1h0M790.1 1871.7h0M792.5 1869.5h0M794.9 1871.4h0M797.2 1870.6h0M799.6 1874.6h0M802 1871.3h0M804.3 1871.9h0M806.7 1870.7h0M809.1 1867.1h0M811.4 1870.1h0M813.8 1868.4h0M816.2 1871.5h0M818.5 1867.5h0M820.9 1866.5h0M823.2 1867.5h0M825.6 1866.8h0M828 1861h0M830.3 1866.6h0M832.7 1865.8h0M835.1 1865h0M837.4 1860.6h0M839.8 1858.3h0M842.2 1861.1h0M844.5 1862.4h0M846.9 1861h0M849.3 1857.3h0M851.6 1860.5h0M854 1855.1h0M856.4 1854.5h0M858.7 1856.4h0M861.1 1854.7h0M863.5 1854h0M865.8 1852h0M868.2 1856.7h0M870.5 1851.6h0M872.9 1853.9h0M875.3 1853.7h0M877.6 1850.9h0M880 1850.3h0M882.4 1850.5h0M884.7 1850.5h0M887.1 1848h0M889.5 1842.1h0M891.8 1840.2h0M894.2 1842h0M896.6 1840.2h0M898.9 1842.9h0M901.3 1841.4h0M903.7 1840h0M906 1842h0M908.4 1841h0M910.8 1838.1h0M913.1 1838.2h0M915.5 1839.2h0M917.8 1836.1h0M920.2 1837.3h0M922.6 1834.7h0M924.9 1836.4h0M927.3 1836.6h0M929.7 1835.3h0M932 1835.6h0M934.4 1836.5h0M936.8 1836.1h0M939.1 1833.9h0M941.5 1834h0M943.9 1832.4h0M946.2 1837.7h0M948.6 1834.5h0M951 1833.8h0M953.3 1832h0M955.7 1832.8h0M958.1 1832.6h0M960.4 1829.8h0M962.8 1830.8h0M965.1 1833.1h0M967.5 1827.7h0M969.9 1827.7h0M972.2 1830.1h0M974.6 1826.5h0M977 1828.8h0M979.3 1824.3h0M981.7 1826.2h0M984.1 1826.7h0M986.4 1825.3h0M988.8 1825.6h0M991.2 1823.2h0M993.5 1822.6h0M995.9 1822.1h0M998.3 1822.3h0M1000.6 1827.7h0" stroke="#ff141c" stroke-width="13.6" stroke-linecap="round" fill="none"/></g><g clip-path="url(#c1)"><path d="M1057.1 2235.8L1059.4 2234.5L1061.8 2233.5L1064.2 2232.1L1066.5 2226.7L1068.9 2225.3L1071.3 2224.5L1073.6 2219.6L1076 2208.6L1078.4 2208.9L1080.7 2198.9L1083.1 2191.7L1085.5 2186L1087.8 2184.8L1090.2 2178.5L1092.6 2173L1094.9 2166.7L1097.3 2163.8L1099.7 2158.4L1102 2147.4L1104.4 2140.6L1106.7 2135.3L1109.1 2130.1L1111.5 2120.5L1113.8 2112.9L1116.2 2103L1118.6 2098.6L1120.9 2087.8L1123.3 2080.8L1125.7 2075.5L1128 2065.8L1130.4 2059.1L1132.8 2052.8L1135.1 2043.7L1137.5 2038.7L1139.9 2025.8L1142.2 2014.5L1144.6 2005.8L1147 1996.9L1149.3 1994.8L1151.7 1988.8L1154 1978.6L1156.4 1971.3L1158.8 1961.3L1161.1 1958.4L1163.5 1956.1L1165.9 1948.2L1168.2 1947.1L1170.6 1944.2L1173 1931.7L1175.3 1931.2L1177.7 1924.5L1180.1 1917.7L1182.4 1907.1L1184.8 1901.5L1187.2 1890.7L1189.5 1885.8L1191.9 1875.8L1194.2 1858.5L1196.6 1846.7L1199 1837.7L1201.3 1828.4L1203.7 1819.3L1206.1 1812.3L1208.4 1799.4L1210.8 1792.8L1213.2 1784.8L1215.5 1776.8L1217.9 1767.4L1220.3 1760.5L1222.6 1752.3L1225 1748.5L1227.4 1737.8L1229.7 1727.3L1232.1 1725.5L1234.5 1717.8L1236.8 1709L1239.2 1702.3L1241.6 1696.7L1243.9 1694.9L1246.3 1684.6L1248.6 1681.7L1251 1674.8L1253.4 1665.8L1255.7 1661L1258.1 1652.1L1260.5 1640.5L1262.8 1638.2L1265.2 1631.2L1267.6 1627.5L1269.9 1620.5L1272.3 1615.3L1274.7 1608.4L1277 1603.9L1279.4 1597.7L1281.8 1591.6L1284.1 1588.2L1286.5 1584.4L1288.9 1580L1291.2 1572.2L1293.6 1568.8L1295.9 1562.8L1298.3 1558.6L1300.7 1557.4L1303 1551.6L1305.4 1552.5L1307.8 1542.2L1310.1 1541.9L1312.5 1542.3L1314.9 1541.9L1317.2 1536.4L1319.6 1538.4L1322 1533.8L1324.3 1528.4L1326.7 1527.6L1329.1 1526.6L1331.4 1521.7L1333.8 1523.5L1336.2 1518.5L1338.5 1517.5L1340.9 1515.3L1343.2 1509.7L1345.6 1509.6L1348 1501.1L1350.3 1503.5L1352.7 1496.1L1355.1 1500.2L1357.4 1495.2L1359.8 1497.4L1362.2 1496.7L1364.5 1493L1366.9 1491.3L1369.3 1494.7L1371.6 1489.4L1374 1492.9L1376.4 1490.5L1378.7 1489.3L1381.1 1488L1383.5 1491.6L1385.8 1483.6L1388.2 1484.5L1390.5 1485.2L1392.9 1485.2L1395.3 1485.6L1397.6 1484.2L1400 1480L1402.4 1481.6L1404.7 1483.1L1407.1 1482L1409.5 1478L1411.8 1482L1414.2 1482.9L1416.6 1479.4L1418.9 1481.4L1421.3 1482.3L1423.7 1483.6L1426 1485.2L1428.4 1484.2L1430.8 1482.6L1433.1 1481.9L1435.5 1480.8L1437.8 1480.4L1440.2 1481L1442.6 1480.8L1444.9 1482.9L1447.3 1484.8L1449.7 1481.2L1452 1481.8L1454.4 1481L1456.8 1480.1L1459.1 1481.9L1461.5 1481.5L1463.9 1479.4L1466.2 1478.9L1468.6 1480.4L1471 1478L1473.3 1479.3L1475.7 1480.8L1478.1 1478.7L1480.4 1475.2L1482.8 1480.6L1485.1 1477.3L1487.5 1477.4L1489.9 1477.7L1492.2 1482.8L1494.6 1477.5L1497 1481.5L1499.3 1482.3L1501.7 1482.1L1504.1 1480.3L1506.4 1481.3L1508.8 1481.8L1511.2 1479L1513.5 1483.2L1515.9 1484.2L1518.3 1481L1520.6 1481.7L1523 1481.4L1525.4 1486L1527.7 1481.8L1530.1 1482.8L1532.4 1480L1534.8 1485.6L1537.2 1482.2L1539.5 1482.7L1541.9 1484.9L1544.3 1482.8L1546.6 1479L1549 1482.2L1551.4 1482.9L1553.7 1480.1L1556.1 1480.3L1558.5 1480.8L1560.8 1484.8L1563.2 1483.7L1565.6 1481.9L1567.9 1485.5L1570.3 1486.1L1572.7 1483.5L1575 1482.6L1577.4 1488.4L1579.7 1491.6L1582.1 1489.3L1584.5 1488.3L1586.8 1486.3L1589.2 1484.8L1591.6 1486.4L1593.9 1487.8L1596.3 1486.6L1598.7 1489.3L1601 1487.9L1603.4 1489.5L1605.8 1483.3L1608.1 1487.4L1610.5 1491.2L1612.9 1492.1L1615.2 1491.4L1617.6 1494L1620 1492.4L1622.3 1492.5L1624.7 1489.3L1627 1492L1629.4 1493L1631.8 1494.4L1634.1 1494.5L1636.5 1492.9L1638.9 1493.7L1641.2 1491.4L1643.6 1495L1646 1491.6L1648.3 1493L1650.7 1493.3L1653.1 1497.2L1655.4 1495.8L1657.8 1492L1660.2 1491L1662.5 1493.7L1664.9 1492.9L1667.2 1495.7L1669.6 1496.2L1672 1497.6L1674.3 1495.2L1676.7 1497.4L1679.1 1499.4L1681.4 1500.1L1683.8 1498.3L1686.2 1498.5L1688.5 1500.5L1690.9 1495.4L1693.3 1502.5L1695.6 1511.5L1698 1516.3L1700.4 1522.6L1702.7 1529.8L1705.1 1533L1707.5 1539.9L1709.8 1542.1" stroke="#aa50a8" stroke-width="4" fill="none" stroke-linejoin="round"/><path d="M1057.1 2235.8h0M1059.4 2234.5h0M1061.8 2233.5h0M1064.2 2232.1h0M1066.5 2226.7h0M1068.9 2225.3h0M1071.3 2224.5h0M1073.6 2219.6h0M1076 2208.6h0M1078.4 2208.9h0M1080.7 2198.9h0M1083.1 2191.7h0M1085.5 2186h0M1087.8 2184.8h0M1090.2 2178.5h0M1092.6 2173h0M1094.9 2166.7h0M1097.3 2163.8h0M1099.7 2158.4h0M1102 2147.4h0M1104.4 2140.6h0M1106.7 2135.3h0M1109.1 2130.1h0M1111.5 2120.5h0M1113.8 2112.9h0M1116.2 2103h0M1118.6 2098.6h0M1120.9 2087.8h0M1123.3 2080.8h0M1125.7 2075.5h0M1128 2065.8h0M1130.4 2059.1h0M1132.8 2052.8h0M1135.1 2043.7h0M1137.5 2038.7h0M1139.9 2025.8h0M1142.2 2014.5h0M1144.6 2005.8h0M1147 1996.9h0M1149.3 1994.8h0M1151.7 1988.8h0M1154 1978.6h0M1156.4 1971.3h0M1158.8 1961.3h0M1161.1 1958.4h0M1163.5 1956.1h0M1165.9 1948.2h0M1168.2 1947.1h0M1170.6 1944.2h0M1173 1931.7h0M1175.3 1931.2h0M1177.7 1924.5h0M1180.1 1917.7h0M1182.4 1907.1h0M1184.8 1901.5h0M1187.2 1890.7h0M1189.5 1885.8h0M1191.9 1875.8h0M1194.2 1858.5h0M1196.6 1846.7h0M1199 1837.7h0M1201.3 1828.4h0M1203.7 1819.3h0M1206.1 1812.3h0M1208.4 1799.4h0M1210.8 1792.8h0M1213.2 1784.8h0M1215.5 1776.8h0M1217.9 1767.4h0M1220.3 1760.5h0M1222.6 1752.3h0M1225 1748.5h0M1227.4 1737.8h0M1229.7 1727.3h0M1232.1 1725.5h0M1234.5 1717.8h0M1236.8 1709h0M1239.2 1702.3h0M1241.6 1696.7h0M1243.9 1694.9h0M1246.3 1684.6h0M1248.6 1681.7h0M1251 1674.8h0M1253.4 1665.8h0M1255.7 1661h0M1258.1 1652.1h0M1260.5 1640.5h0M1262.8 1638.2h0M1265.2 1631.2h0M1267.6 1627.5h0M1269.9 1620.5h0M1272.3 1615.3h0M1274.7 1608.4h0M1277 1603.9h0M1279.4 1597.7h0M1281.8 1591.6h0M1284.1 1588.2h0M1286.5 1584.4h0M1288.9 1580h0M1291.2 1572.2h0M1293.6 1568.8h0M1295.9 1562.8h0M1298.3 1558.6h0M1300.7 1557.4h0M1303 1551.6h0M1305.4 1552.5h0M1307.8 1542.2h0M1310.1 1541.9h0M1312.5 1542.3h0M1314.9 1541.9h0M1317.2 1536.4h0M1319.6 1538.4h0M1322 1533.8h0M1324.3 1528.4h0M1326.7 1527.6h0M1329.1 1526.6h0M1331.4 1521.7h0M1333.8 1523.5h0M1336.2 1518.5h0M1338.5 1517.5h0M1340.9 1515.3h0M1343.2 1509.7h0M1345.6 1509.6h0M1348 1501.1h0M1350.3 1503.5h0M1352.7 1496.1h0M1355.1 1500.2h0M1357.4 1495.2h0M1359.8 1497.4h0M1362.2 1496.7h0M1364.5 1493h0M1366.9 1491.3h0M1369.3 1494.7h0M1371.6 1489.4h0M1374 1492.9h0M1376.4 1490.5h0M1378.7 1489.3h0M1381.1 1488h0M1383.5 1491.6h0M1385.8 1483.6h0M1388.2 1484.5h0M1390.5 1485.2h0M1392.9 1485.2h0M1395.3 1485.6h0M1397.6 1484.2h0M1400 1480h0M1402.4 1481.6h0M1404.7 1483.1h0M1407.1 1482h0M1409.5 1478h0M1411.8 1482h0M1414.2 1482.9h0M1416.6 1479.4h0M1418.9 1481.4h0M1421.3 1482.3h0M1423.7 1483.6h0M1426 1485.2h0M1428.4 1484.2h0M1430.8 1482.6h0M1433.1 1481.9h0M1435.5 1480.8h0M1437.8 1480.4h0M1440.2 1481h0M1442.6 1480.8h0M1444.9 1482.9h0M1447.3 1484.8h0M1449.7 1481.2h0M1452 1481.8h0M1454.4 1481h0M1456.8 1480.1h0M1459.1 1481.9h0M1461.5 1481.5h0M1463.9 1479.4h0M1466.2 1478.9h0M1468.6 1480.4h0M1471 1478h0M1473.3 1479.3h0M1475.7 1480.8h0M1478.1 1478.7h0M1480.4 1475.2h0M1482.8 1480.6h0M1485.1 1477.3h0M1487.5 1477.4h0M1489.9 1477.7h0M1492.2 1482.8h0M1494.6 1477.5h0M1497 1481.5h0M1499.3 1482.3h0M1501.7 1482.1h0M1504.1 1480.3h0M1506.4 1481.3h0M1508.8 1481.8h0M1511.2 1479h0M1513.5 1483.2h0M1515.9 1484.2h0M1518.3 1481h0M1520.6 1481.7h0M1523 1481.4h0M1525.4 1486h0M1527.7 1481.8h0M1530.1 1482.8h0M1532.4 1480h0M1534.8 1485.6h0M1537.2 1482.2h0M1539.5 1482.7h0M1541.9 1484.9h0M1544.3 1482.8h0M1546.6 1479h0M1549 1482.2h0M1551.4 1482.9h0M1553.7 1480.1h0M1556.1 1480.3h0M1558.5 1480.8h0M1560.8 1484.8h0M1563.2 1483.7h0M1565.6 1481.9h0M1567.9 1485.5h0M1570.3 1486.1h0M1572.7 1483.5h0M1575 1482.6h0M1577.4 1488.4h0M1579.7 1491.6h0M1582.1 1489.3h0M1584.5 1488.3h0M1586.8 1486.3h0M1589.2 1484.8h0M1591.6 1486.4h0M1593.9 1487.8h0M1596.3 1486.6h0M1598.7 1489.3h0M1601 1487.9h0M1603.4 1489.5h0M1605.8 1483.3h0M1608.1 1487.4h0M1610.5 1491.2h0M1612.9 1492.1h0M1615.2 1491.4h0M1617.6 1494h0M1620 1492.4h0M1622.3 1492.5h0M1624.7 1489.3h0M1627 1492h0M1629.4 1493h0M1631.8 1494.4h0M1634.1 1494.5h0M1636.5 1492.9h0M1638.9 1493.7h0M1641.2 1491.4h0M1643.6 1495h0M1646 1491.6h0M1648.3 1493h0M1650.7 1493.3h0M1653.1 1497.2h0M1655.4 1495.8h0M1657.8 1492h0M1660.2 1491h0M1662.5 1493.7h0M1664.9 1492.9h0M1667.2 1495.7h0M1669.6 1496.2h0M1672 1497.6h0M1674.3 1495.2h0M1676.7 1497.4h0M1679.1 1499.4h0M1681.4 1500.1h0M1683.8 1498.3h0M1686.2 1498.5h0M1688.5 1500.5h0M1690.9 1495.4h0M1693.3 1502.5h0M1695.6 1511.5h0M1698 1516.3h0M1700.4 1522.6h0M1702.7 1529.8h0M1705.1 1533h0M1707.5 1539.9h0M1709.8 1542.1h0" stroke="#aa50a8" stroke-width="13.6" stroke-linecap="round" fill="none"/><path d="M1028.7 2208.5L1031.1 2209.1L1033.4 2207.1L1035.8 2209.4L1038.2 2206.9L1040.5 2204.9L1042.9 2204.3L1045.3 2205.6L1047.6 2201.6L1050 2197.1L1052.4 2195.1L1054.7 2188.1L1057.1 2183.2L1059.4 2183L1061.8 2175.3L1064.2 2177L1066.5 2173.9L1068.9 2171L1071.3 2168.9L1073.6 2163.5L1076 2161.2L1078.4 2155L1080.7 2154.1L1083.1 2150.9L1085.5 2148.2L1087.8 2145.2L1090.2 2134L1092.6 2124.2L1094.9 2108.2L1097.3 2096.3L1099.7 2078.1L1102 2069.2L1104.4 2060.4L1106.7 2054.3L1109.1 2048L1111.5 2041.3L1113.8 2035.7L1116.2 2034.5L1118.6 2027.8L1120.9 2019.2L1123.3 2019.8L1125.7 2014.8L1128 2009.8L1130.4 2005.2L1132.8 1993.1L1135.1 1987.5L1137.5 1977.2L1139.9 1960.2L1142.2 1947.1L1144.6 1944.8L1147 1932.9L1149.3 1926.5L1151.7 1920.5L1154 1914.8L1156.4 1910.9L1158.8 1903.5L1161.1 1901.4L1163.5 1897.9L1165.9 1891.5L1168.2 1886.9L1170.6 1882L1173 1876.4L1175.3 1868.1L1177.7 1865.9L1180.1 1862.9L1182.4 1860.9L1184.8 1856.6L1187.2 1854.7L1189.5 1848.9L1191.9 1844.9L1194.2 1845.7L1196.6 1837.8L1199 1832.6L1201.3 1829.5L1203.7 1827.5L1206.1 1818.7L1208.4 1818L1210.8 1814.6L1213.2 1809.9L1215.5 1803.5L1217.9 1797.1L1220.3 1792.2L1222.6 1789.2L1225 1786.9L1227.4 1780.6L1229.7 1775.6L1232.1 1768.7L1234.5 1766.4L1236.8 1757.2L1239.2 1750.7L1241.6 1746.6L1243.9 1739.5L1246.3 1736.3L1248.6 1731.3L1251 1723.8L1253.4 1714.8L1255.7 1710L1258.1 1708.2L1260.5 1700.4L1262.8 1698.9L1265.2 1690.8L1267.6 1688.2L1269.9 1685.4L1272.3 1678.2L1274.7 1676.6L1277 1672.1L1279.4 1668.3L1281.8 1660L1284.1 1655.7L1286.5 1650.7L1288.9 1646.5L1291.2 1638.1L1293.6 1637.3L1295.9 1633.5L1298.3 1625.1L1300.7 1619.9L1303 1616.8L1305.4 1615.5L1307.8 1607.9L1310.1 1600.3L1312.5 1596.8L1314.9 1589.3L1317.2 1591L1319.6 1582.9L1322 1581.4L1324.3 1573.4L1326.7 1571.9L1329.1 1565.5L1331.4 1564.6L1333.8 1562L1336.2 1557.4L1338.5 1552.6L1340.9 1549.8L1343.2 1541.8L1345.6 1538.1L1348 1536.8L1350.3 1536.1L1352.7 1531.3L1355.1 1529.6L1357.4 1522.5L1359.8 1521.8L1362.2 1518.5L1364.5 1517.1L1366.9 1517.2L1369.3 1511.8L1371.6 1509.8L1374 1504.5L1376.4 1503L1378.7 1503L1381.1 1500.5L1383.5 1495L1385.8 1498.3L1388.2 1496.4L1390.5 1493.1L1392.9 1492.2L1395.3 1489.7L1397.6 1485.9L1400 1481.6L1402.4 1486.7L1404.7 1481.3L1407.1 1479.4L1409.5 1478.1L1411.8 1477L1414.2 1476.2L1416.6 1472.7L1418.9 1474.8L1421.3 1473.2L1423.7 1472.1L1426 1471L1428.4 1470.7L1430.8 1467.6L1433.1 1469L1435.5 1468.1L1437.8 1468L1440.2 1469.1L1442.6 1467.9L1444.9 1467.4L1447.3 1463.8L1449.7 1464.6L1452 1464.4L1454.4 1460.9L1456.8 1459.5L1459.1 1463.2L1461.5 1455.5L1463.9 1458L1466.2 1457.7L1468.6 1454.8L1471 1456.3L1473.3 1457.4L1475.7 1451.6L1478.1 1458L1480.4 1455.8L1482.8 1453.5L1485.1 1456.7L1487.5 1454L1489.9 1452.1L1492.2 1447.3L1494.6 1453.2L1497 1451.1L1499.3 1449.4L1501.7 1450.4L1504.1 1452.9L1506.4 1449.6L1508.8 1450.3L1511.2 1449.7L1513.5 1448.6L1515.9 1449.2L1518.3 1450.9L1520.6 1451.6L1523 1454.9L1525.4 1453.3L1527.7 1452.8L1530.1 1454L1532.4 1452.7L1534.8 1454.1L1537.2 1448.7L1539.5 1446.7L1541.9 1451.1L1544.3 1449.1L1546.6 1450.2L1549 1447.6L1551.4 1450L1553.7 1451.8L1556.1 1453.3L1558.5 1453.2L1560.8 1455.6L1563.2 1452.1L1565.6 1454.5L1567.9 1451.9L1570.3 1452.8L1572.7 1451.3L1575 1454L1577.4 1452.3L1579.7 1456.3L1582.1 1453.2L1584.5 1454.6L1586.8 1453.4L1589.2 1453.3L1591.6 1451.3L1593.9 1456.9L1596.3 1452.2L1598.7 1456L1601 1451.1L1603.4 1457.9L1605.8 1456.4L1608.1 1458L1610.5 1451.4L1612.9 1457.2L1615.2 1454.5L1617.6 1455.9L1620 1458.5L1622.3 1455.7L1624.7 1453.7L1627 1455.4L1629.4 1453.3L1631.8 1456.2L1634.1 1455.7L1636.5 1456.7L1638.9 1455.3L1641.2 1452.2L1643.6 1455.1L1646 1455.4L1648.3 1456.9L1650.7 1457L1653.1 1452.3L1655.4 1457.1L1657.8 1456.5L1660.2 1454.8L1662.5 1455.7L1664.9 1451.5L1667.2 1460.6L1669.6 1455.7L1672 1455.2L1674.3 1458.8L1676.7 1457.5L1679.1 1454.9L1681.4 1452L1683.8 1456.7L1686.2 1457.9L1688.5 1452.8L1690.9 1451.8L1693.3 1455.6L1695.6 1459.5L1698 1452.5L1700.4 1456.2L1702.7 1454.2L1705.1 1457.2L1707.5 1458.5L1709.8 1459" stroke="#00b141" stroke-width="4" fill="none" stroke-linejoin="round"/><path d="M1028.7 2208.5h0M1031.1 2209.1h0M1033.4 2207.1h0M1035.8 2209.4h0M1038.2 2206.9h0M1040.5 2204.9h0M1042.9 2204.3h0M1045.3 2205.6h0M1047.6 2201.6h0M1050 2197.1h0M1052.4 2195.1h0M1054.7 2188.1h0M1057.1 2183.2h0M1059.4 2183h0M1061.8 2175.3h0M1064.2 2177h0M1066.5 2173.9h0M1068.9 2171h0M1071.3 2168.9h0M1073.6 2163.5h0M1076 2161.2h0M1078.4 2155h0M1080.7 2154.1h0M1083.1 2150.9h0M1085.5 2148.2h0M1087.8 2145.2h0M1090.2 2134h0M1092.6 2124.2h0M1094.9 2108.2h0M1097.3 2096.3h0M1099.7 2078.1h0M1102 2069.2h0M1104.4 2060.4h0M1106.7 2054.3h0M1109.1 2048h0M1111.5 2041.3h0M1113.8 2035.7h0M1116.2 2034.5h0M1118.6 2027.8h0M1120.9 2019.2h0M1123.3 2019.8h0M1125.7 2014.8h0M1128 2009.8h0M1130.4 2005.2h0M1132.8 1993.1h0M1135.1 1987.5h0M1137.5 1977.2h0M1139.9 1960.2h0M1142.2 1947.1h0M1144.6 1944.8h0M1147 1932.9h0M1149.3 1926.5h0M1151.7 1920.5h0M1154 1914.8h0M1156.4 1910.9h0M1158.8 1903.5h0M1161.1 1901.4h0M1163.5 1897.9h0M1165.9 1891.5h0M1168.2 1886.9h0M1170.6 1882h0M1173 1876.4h0M1175.3 1868.1h0M1177.7 1865.9h0M1180.1 1862.9h0M1182.4 1860.9h0M1184.8 1856.6h0M1187.2 1854.7h0M1189.5 1848.9h0M1191.9 1844.9h0M1194.2 1845.7h0M1196.6 1837.8h0M1199 1832.6h0M1201.3 1829.5h0M1203.7 1827.5h0M1206.1 1818.7h0M1208.4 1818h0M1210.8 1814.6h0M1213.2 1809.9h0M1215.5 1803.5h0M1217.9 1797.1h0M1220.3 1792.2h0M1222.6 1789.2h0M1225 1786.9h0M1227.4 1780.6h0M1229.7 1775.6h0M1232.1 1768.7h0M1234.5 1766.4h0M1236.8 1757.2h0M1239.2 1750.7h0M1241.6 1746.6h0M1243.9 1739.5h0M1246.3 1736.3h0M1248.6 1731.3h0M1251 1723.8h0M1253.4 1714.8h0M1255.7 1710h0M1258.1 1708.2h0M1260.5 1700.4h0M1262.8 1698.9h0M1265.2 1690.8h0M1267.6 1688.2h0M1269.9 1685.4h0M1272.3 1678.2h0M1274.7 1676.6h0M1277 1672.1h0M1279.4 1668.3h0M1281.8 1660h0M1284.1 1655.7h0M1286.5 1650.7h0M1288.9 1646.5h0M1291.2 1638.1h0M1293.6 1637.3h0M1295.9 1633.5h0M1298.3 1625.1h0M1300.7 1619.9h0M1303 1616.8h0M1305.4 1615.5h0M1307.8 1607.9h0M1310.1 1600.3h0M1312.5 1596.8h0M1314.9 1589.3h0M1317.2 1591h0M1319.6 1582.9h0M1322 1581.4h0M1324.3 1573.4h0M1326.7 1571.9h0M1329.1 1565.5h0M1331.4 1564.6h0M1333.8 1562h0M1336.2 1557.4h0M1338.5 1552.6h0M1340.9 1549.8h0M1343.2 1541.8h0M1345.6 1538.1h0M1348 1536.8h0M1350.3 1536.1h0M1352.7 1531.3h0M1355.1 1529.6h0M1357.4 1522.5h0M1359.8 1521.8h0M1362.2 1518.5h0M1364.5 1517.1h0M1366.9 1517.2h0M1369.3 1511.8h0M1371.6 1509.8h0M1374 1504.5h0M1376.4 1503h0M1378.7 1503h0M1381.1 1500.5h0M1383.5 1495h0M1385.8 1498.3h0M1388.2 1496.4h0M1390.5 1493.1h0M1392.9 1492.2h0M1395.3 1489.7h0M1397.6 1485.9h0M1400 1481.6h0M1402.4 1486.7h0M1404.7 1481.3h0M1407.1 1479.4h0M1409.5 1478.1h0M1411.8 1477h0M1414.2 1476.2h0M1416.6 1472.7h0M1418.9 1474.8h0M1421.3 1473.2h0M1423.7 1472.1h0M1426 1471h0M1428.4 1470.7h0M1430.8 1467.6h0M1433.1 1469h0M1435.5 1468.1h0M1437.8 1468h0M1440.2 1469.1h0M1442.6 1467.9h0M1444.9 1467.4h0M1447.3 1463.8h0M1449.7 1464.6h0M1452 1464.4h0M1454.4 1460.9h0M1456.8 1459.5h0M1459.1 1463.2h0M1461.5 1455.5h0M1463.9 1458h0M1466.2 1457.7h0M1468.6 1454.8h0M1471 1456.3h0M1473.3 1457.4h0M1475.7 1451.6h0M1478.1 1458h0M1480.4 1455.8h0M1482.8 1453.5h0M1485.1 1456.7h0M1487.5 1454h0M1489.9 1452.1h0M1492.2 1447.3h0M1494.6 1453.2h0M1497 1451.1h0M1499.3 1449.4h0M1501.7 1450.4h0M1504.1 1452.9h0M1506.4 1449.6h0M1508.8 1450.3h0M1511.2 1449.7h0M1513.5 1448.6h0M1515.9 1449.2h0M1518.3 1450.9h0M1520.6 1451.6h0M1523 1454.9h0M1525.4 1453.3h0M1527.7 1452.8h0M1530.1 1454h0M1532.4 1452.7h0M1534.8 1454.1h0M1537.2 1448.7h0M1539.5 1446.7h0M1541.9 1451.1h0M1544.3 1449.1h0M1546.6 1450.2h0M1549 1447.6h0M1551.4 1450h0M1553.7 1451.8h0M1556.1 1453.3h0M1558.5 1453.2h0M1560.8 1455.6h0M1563.2 1452.1h0M1565.6 1454.5h0M1567.9 1451.9h0M1570.3 1452.8h0M1572.7 1451.3h0M1575 1454h0M1577.4 1452.3h0M1579.7 1456.3h0M1582.1 1453.2h0M1584.5 1454.6h0M1586.8 1453.4h0M1589.2 1453.3h0M1591.6 1451.3h0M1593.9 1456.9h0M1596.3 1452.2h0M1598.7 1456h0M1601 1451.1h0M1603.4 1457.9h0M1605.8 1456.4h0M1608.1 1458h0M1610.5 1451.4h0M1612.9 1457.2h0M1615.2 1454.5h0M1617.6 1455.9h0M1620 1458.5h0M1622.3 1455.7h0M1624.7 1453.7h0M1627 1455.4h0M1629.4 1453.3h0M1631.8 1456.2h0M1634.1 1455.7h0M1636.5 1456.7h0M1638.9 1455.3h0M1641.2 1452.2h0M1643.6 1455.1h0M1646 1455.4h0M1648.3 1456.9h0M1650.7 1457h0M1653.1 1452.3h0M1655.4 1457.1h0M1657.8 1456.5h0M1660.2 1454.8h0M1662.5 1455.7h0M1664.9 1451.5h0M1667.2 1460.6h0M1669.6 1455.7h0M1672 1455.2h0M1674.3 1458.8h0M1676.7 1457.5h0M1679.1 1454.9h0M1681.4 1452h0M1683.8 1456.7h0M1686.2 1457.9h0M1688.5 1452.8h0M1690.9 1451.8h0M1693.3 1455.6h0M1695.6 1459.5h0M1698 1452.5h0M1700.4 1456.2h0M1702.7 1454.2h0M1705.1 1457.2h0M1707.5 1458.5h0M1709.8 1459h0" stroke="#00b141" stroke-width="13.6" stroke-linecap="round" fill="none"/><path d="M1028.7 2243.2L1031.1 2243L1033.4 2246.6L1035.8 2241.1L1038.2 2240.3L1040.5 2241.4L1042.9 2234L1045.3 2231.4L1047.6 2225.8L1050 2217.9L1052.4 2214L1054.7 2204.2L1057.1 2208.6L1059.4 2201.1L1061.8 2197.9L1064.2 2201.1L1066.5 2197.7L1068.9 2190L1071.3 2188.6L1073.6 2182.9L1076 2176.4L1078.4 2172.8L1080.7 2166.4L1083.1 2161.6L1085.5 2148L1087.8 2142.9L1090.2 2133L1092.6 2125.5L1094.9 2120.3L1097.3 2104.4L1099.7 2094.4L1102 2083.5L1104.4 2077.3L1106.7 2066.1L1109.1 2057.1L1111.5 2047.8L1113.8 2039.6L1116.2 2027.7L1118.6 2022.6L1120.9 2020L1123.3 2020.5L1125.7 2016.2L1128 2017.5L1130.4 2021.5L1132.8 2014L1135.1 2007.3L1137.5 1998.2L1139.9 1993.2L1142.2 1986L1144.6 1979.5L1147 1969.2L1149.3 1964.1L1151.7 1957.9L1154 1952.6L1156.4 1944.6L1158.8 1941.6L1161.1 1939.1L1163.5 1930.4L1165.9 1929.6L1168.2 1925L1170.6 1923.2L1173 1920.2L1175.3 1919.1L1177.7 1920.4L1180.1 1916.6L1182.4 1914.7L1184.8 1904.1L1187.2 1902L1189.5 1896.1L1191.9 1895.9L1194.2 1896L1196.6 1885.6L1199 1885.2L1201.3 1881.8L1203.7 1878.5L1206.1 1874.1L1208.4 1871.4L1210.8 1872.9L1213.2 1864.5L1215.5 1863.6L1217.9 1857.8L1220.3 1846.8L1222.6 1841.9L1225 1839L1227.4 1837.7L1229.7 1830L1232.1 1825.7L1234.5 1823L1236.8 1820.8L1239.2 1815L1241.6 1810.8L1243.9 1802.9L1246.3 1796.7L1248.6 1791.3L1251 1789.7L1253.4 1782.7L1255.7 1777.1L1258.1 1774.4L1260.5 1769L1262.8 1759.9L1265.2 1759.2L1267.6 1753.3L1269.9 1751.1L1272.3 1745.3L1274.7 1743.8L1277 1735.5L1279.4 1728.3L1281.8 1721.9L1284.1 1719.2L1286.5 1716.1L1288.9 1713.3L1291.2 1710.6L1293.6 1705.6L1295.9 1699.7L1298.3 1697.7L1300.7 1689.4L1303 1688.1L1305.4 1684.7L1307.8 1678.2L1310.1 1674.6L1312.5 1669L1314.9 1658.8L1317.2 1655.9L1319.6 1649.4L1322 1642L1324.3 1636.5L1326.7 1635L1329.1 1626.5L1331.4 1623.7L1333.8 1619.7L1336.2 1614.2L1338.5 1613.3L1340.9 1607.7L1343.2 1602L1345.6 1596.3L1348 1593.8L1350.3 1588.6L1352.7 1581.3L1355.1 1575L1357.4 1570.7L1359.8 1564.3L1362.2 1562.4L1364.5 1557.4L1366.9 1551.6L1369.3 1548.8L1371.6 1545.7L1374 1538.1L1376.4 1538.6L1378.7 1537.1L1381.1 1531.6L1383.5 1526.7L1385.8 1528.3L1388.2 1524.3L1390.5 1526.2L1392.9 1525.3L1395.3 1524.8L1397.6 1523.2L1400 1518.8L1402.4 1524.4L1404.7 1518.6L1407.1 1523.6L1409.5 1521.7L1411.8 1519.2L1414.2 1519.1L1416.6 1519.2L1418.9 1522.3L1421.3 1517.7L1423.7 1519.8L1426 1512.2L1428.4 1517.2L1430.8 1515.9L1433.1 1518.1L1435.5 1516.3L1437.8 1517.2L1440.2 1511.9L1442.6 1513.4L1444.9 1510.7L1447.3 1512.2L1449.7 1510.9L1452 1506.7L1454.4 1510.8L1456.8 1512.4L1459.1 1508.3L1461.5 1511.7L1463.9 1510.6L1466.2 1508.1L1468.6 1511.7L1471 1508.3L1473.3 1511.4L1475.7 1507L1478.1 1507.2L1480.4 1510.6L1482.8 1510L1485.1 1511L1487.5 1508.7L1489.9 1506.5L1492.2 1511.4L1494.6 1506.6L1497 1511.2L1499.3 1510.7L1501.7 1513.1L1504.1 1505.9L1506.4 1510.3L1508.8 1510.2L1511.2 1512.1L1513.5 1508.6L1515.9 1514.7L1518.3 1510.2L1520.6 1505.5L1523 1510.3L1525.4 1509.3L1527.7 1507.8L1530.1 1510.6L1532.4 1508.7L1534.8 1506.7L1537.2 1508.2L1539.5 1507.8L1541.9 1509.2L1544.3 1507.8L1546.6 1508.4L1549 1505.7L1551.4 1507.3L1553.7 1509.4L1556.1 1513.8L1558.5 1507.3L1560.8 1506.7L1563.2 1509.6L1565.6 1511.4L1567.9 1509.9L1570.3 1506.3L1572.7 1511.1L1575 1510.9L1577.4 1510.3L1579.7 1508.8L1582.1 1511.3L1584.5 1511.1L1586.8 1511.3L1589.2 1506.3L1591.6 1507.1L1593.9 1509.5L1596.3 1512.7L1598.7 1512.3L1601 1510.3L1603.4 1513.5L1605.8 1510.6L1608.1 1511.8L1610.5 1512L1612.9 1511.4L1615.2 1511.9L1617.6 1514.9L1620 1514.4L1622.3 1509.7L1624.7 1517.4L1627 1516.5L1629.4 1513.9L1631.8 1516.7L1634.1 1518.3L1636.5 1519.4L1638.9 1515.6L1641.2 1514.4L1643.6 1513.3L1646 1515.7L1648.3 1513.6L1650.7 1517.9L1653.1 1515.9L1655.4 1518L1657.8 1516.6L1660.2 1515.5L1662.5 1514.5L1664.9 1518.3L1667.2 1513.6L1669.6 1517.2L1672 1518.7L1674.3 1517.7L1676.7 1521.1L1679.1 1519L1681.4 1519.1L1683.8 1520.6L1686.2 1519.5L1688.5 1521.5L1690.9 1521L1693.3 1524L1695.6 1521.2L1698 1523.1L1700.4 1522.4L1702.7 1521.8L1705.1 1521.2L1707.5 1524.8L1709.8 1524.7" stroke="#037dbb" stroke-width="4" fill="none" stroke-linejoin="round"/><path d="M1028.7 2243.2h0M1031.1 2243h0M1033.4 2246.6h0M1035.8 2241.1h0M1038.2 2240.3h0M1040.5 2241.4h0M1042.9 2234h0M1045.3 2231.4h0M1047.6 2225.8h0M1050 2217.9h0M1052.4 2214h0M1054.7 2204.2h0M1057.1 2208.6h0M1059.4 2201.1h0M1061.8 2197.9h0M1064.2 2201.1h0M1066.5 2197.7h0M1068.9 2190h0M1071.3 2188.6h0M1073.6 2182.9h0M1076 2176.4h0M1078.4 2172.8h0M1080.7 2166.4h0M1083.1 2161.6h0M1085.5 2148h0M1087.8 2142.9h0M1090.2 2133h0M1092.6 2125.5h0M1094.9 2120.3h0M1097.3 2104.4h0M1099.7 2094.4h0M1102 2083.5h0M1104.4 2077.3h0M1106.7 2066.1h0M1109.1 2057.1h0M1111.5 2047.8h0M1113.8 2039.6h0M1116.2 2027.7h0M1118.6 2022.6h0M1120.9 2020h0M1123.3 2020.5h0M1125.7 2016.2h0M1128 2017.5h0M1130.4 2021.5h0M1132.8 2014h0M1135.1 2007.3h0M1137.5 1998.2h0M1139.9 1993.2h0M1142.2 1986h0M1144.6 1979.5h0M1147 1969.2h0M1149.3 1964.1h0M1151.7 1957.9h0M1154 1952.6h0M1156.4 1944.6h0M1158.8 1941.6h0M1161.1 1939.1h0M1163.5 1930.4h0M1165.9 1929.6h0M1168.2 1925h0M1170.6 1923.2h0M1173 1920.2h0M1175.3 1919.1h0M1177.7 1920.4h0M1180.1 1916.6h0M1182.4 1914.7h0M1184.8 1904.1h0M1187.2 1902h0M1189.5 1896.1h0M1191.9 1895.9h0M1194.2 1896h0M1196.6 1885.6h0M1199 1885.2h0M1201.3 1881.8h0M1203.7 1878.5h0M1206.1 1874.1h0M1208.4 1871.4h0M1210.8 1872.9h0M1213.2 1864.5h0M1215.5 1863.6h0M1217.9 1857.8h0M1220.3 1846.8h0M1222.6 1841.9h0M1225 1839h0M1227.4 1837.7h0M1229.7 1830h0M1232.1 1825.7h0M1234.5 1823h0M1236.8 1820.8h0M1239.2 1815h0M1241.6 1810.8h0M1243.9 1802.9h0M1246.3 1796.7h0M1248.6 1791.3h0M1251 1789.7h0M1253.4 1782.7h0M1255.7 1777.1h0M1258.1 1774.4h0M1260.5 1769h0M1262.8 1759.9h0M1265.2 1759.2h0M1267.6 1753.3h0M1269.9 1751.1h0M1272.3 1745.3h0M1274.7 1743.8h0M1277 1735.5h0M1279.4 1728.3h0M1281.8 1721.9h0M1284.1 1719.2h0M1286.5 1716.1h0M1288.9 1713.3h0M1291.2 1710.6h0M1293.6 1705.6h0M1295.9 1699.7h0M1298.3 1697.7h0M1300.7 1689.4h0M1303 1688.1h0M1305.4 1684.7h0M1307.8 1678.2h0M1310.1 1674.6h0M1312.5 1669h0M1314.9 1658.8h0M1317.2 1655.9h0M1319.6 1649.4h0M1322 1642h0M1324.3 1636.5h0M1326.7 1635h0M1329.1 1626.5h0M1331.4 1623.7h0M1333.8 1619.7h0M1336.2 1614.2h0M1338.5 1613.3h0M1340.9 1607.7h0M1343.2 1602h0M1345.6 1596.3h0M1348 1593.8h0M1350.3 1588.6h0M1352.7 1581.3h0M1355.1 1575h0M1357.4 1570.7h0M1359.8 1564.3h0M1362.2 1562.4h0M1364.5 1557.4h0M1366.9 1551.6h0M1369.3 1548.8h0M1371.6 1545.7h0M1374 1538.1h0M1376.4 1538.6h0M1378.7 1537.1h0M1381.1 1531.6h0M1383.5 1526.7h0M1385.8 1528.3h0M1388.2 1524.3h0M1390.5 1526.2h0M1392.9 1525.3h0M1395.3 1524.8h0M1397.6 1523.2h0M1400 1518.8h0M1402.4 1524.4h0M1404.7 1518.6h0M1407.1 1523.6h0M1409.5 1521.7h0M1411.8 1519.2h0M1414.2 1519.1h0M1416.6 1519.2h0M1418.9 1522.3h0M1421.3 1517.7h0M1423.7 1519.8h0M1426 1512.2h0M1428.4 1517.2h0M1430.8 1515.9h0M1433.1 1518.1h0M1435.5 1516.3h0M1437.8 1517.2h0M1440.2 1511.9h0M1442.6 1513.4h0M1444.9 1510.7h0M1447.3 1512.2h0M1449.7 1510.9h0M1452 1506.7h0M1454.4 1510.8h0M1456.8 1512.4h0M1459.1 1508.3h0M1461.5 1511.7h0M1463.9 1510.6h0M1466.2 1508.1h0M1468.6 1511.7h0M1471 1508.3h0M1473.3 1511.4h0M1475.7 1507h0M1478.1 1507.2h0M1480.4 1510.6h0M1482.8 1510h0M1485.1 1511h0M1487.5 1508.7h0M1489.9 1506.5h0M1492.2 1511.4h0M1494.6 1506.6h0M1497 1511.2h0M1499.3 1510.7h0M1501.7 1513.1h0M1504.1 1505.9h0M1506.4 1510.3h0M1508.8 1510.2h0M1511.2 1512.1h0M1513.5 1508.6h0M1515.9 1514.7h0M1518.3 1510.2h0M1520.6 1505.5h0M1523 1510.3h0M1525.4 1509.3h0M1527.7 1507.8h0M1530.1 1510.6h0M1532.4 1508.7h0M1534.8 1506.7h0M1537.2 1508.2h0M1539.5 1507.8h0M1541.9 1509.2h0M1544.3 1507.8h0M1546.6 1508.4h0M1549 1505.7h0M1551.4 1507.3h0M1553.7 1509.4h0M1556.1 1513.8h0M1558.5 1507.3h0M1560.8 1506.7h0M1563.2 1509.6h0M1565.6 1511.4h0M1567.9 1509.9h0M1570.3 1506.3h0M1572.7 1511.1h0M1575 1510.9h0M1577.4 1510.3h0M1579.7 1508.8h0M1582.1 1511.3h0M1584.5 1511.1h0M1586.8 1511.3h0M1589.2 1506.3h0M1591.6 1507.1h0M1593.9 1509.5h0M1596.3 1512.7h0M1598.7 1512.3h0M1601 1510.3h0M1603.4 1513.5h0M1605.8 1510.6h0M1608.1 1511.8h0M1610.5 1512h0M1612.9 1511.4h0M1615.2 1511.9h0M1617.6 1514.9h0M1620 1514.4h0M1622.3 1509.7h0M1624.7 1517.4h0M1627 1516.5h0M1629.4 1513.9h0M1631.8 1516.7h0M1634.1 1518.3h0M1636.5 1519.4h0M1638.9 1515.6h0M1641.2 1514.4h0M1643.6 1513.3h0M1646 1515.7h0M1648.3 1513.6h0M1650.7 1517.9h0M1653.1 1515.9h0M1655.4 1518h0M1657.8 1516.6h0M1660.2 1515.5h0M1662.5 1514.5h0M1664.9 1518.3h0M1667.2 1513.6h0M1669.6 1517.2h0M1672 1518.7h0M1674.3 1517.7h0M1676.7 1521.1h0M1679.1 1519h0M1681.4 1519.1h0M1683.8 1520.6h0M1686.2 1519.5h0M1688.5 1521.5h0M1690.9 1521h0M1693.3 1524h0M1695.6 1521.2h0M1698 1523.1h0M1700.4 1522.4h0M1702.7 1521.8h0M1705.1 1521.2h0M1707.5 1524.8h0M1709.8 1524.7h0" stroke="#037dbb" stroke-width="13.6" stroke-linecap="round" fill="none"/><path d="M1028.7 2227.4L1031.1 2230.7L1033.4 2223.2L1035.8 2223.4L1038.2 2213.8L1040.5 2227.3L1042.9 2227.6L1045.3 2221.2L1047.6 2231.6L1050 2228.4L1052.4 2211.7L1054.7 2211.8L1057.1 2216.9L1059.4 2217.9L1061.8 2226.3L1064.2 2212.4L1066.5 2215.3L1068.9 2213L1071.3 2217.8L1073.6 2212L1076 2211.4L1078.4 2205.1L1080.7 2194.1L1083.1 2201.2L1085.5 2216.7L1087.8 2210.4L1090.2 2214.8L1092.6 2207.2L1094.9 2194.2L1097.3 2193L1099.7 2198.7L1102 2189.5L1104.4 2196.5L1106.7 2201.3L1109.1 2200.9L1111.5 2196L1113.8 2176.7L1116.2 2198.2L1118.6 2175.6L1120.9 2173.1L1123.3 2183.5L1125.7 2180.2L1128 2182.4L1130.4 2175.4L1132.8 2168.4L1135.1 2173.3L1137.5 2165.6L1139.9 2164.8L1142.2 2171.9L1144.6 2171.5L1147 2173.7L1149.3 2169.2L1151.7 2180.6L1154 2168.3L1156.4 2170.5L1158.8 2179.9L1161.1 2155.3L1163.5 2180L1165.9 2177.3L1168.2 2165.1L1170.6 2180L1173 2167.3L1175.3 2170.4L1177.7 2163.9L1180.1 2156.2L1182.4 2152.3L1184.8 2145.6L1187.2 2147.1L1189.5 2142L1191.9 2144.1L1194.2 2150.1L1196.6 2135.4L1199 2148.2L1201.3 2150.3L1203.7 2134.6L1206.1 2142.5L1208.4 2147.9L1210.8 2142.8L1213.2 2139.5L1215.5 2154.7L1217.9 2141L1220.3 2147.1L1222.6 2134.8L1225 2140.7L1227.4 2124.2L1229.7 2131.3L1232.1 2142.1L1234.5 2134.9L1236.8 2143.2L1239.2 2131.1L1241.6 2125.3L1243.9 2126.5L1246.3 2144.2L1248.6 2131.3L1251 2124.5L1253.4 2125.8L1255.7 2117.7L1258.1 2136.2L1260.5 2119.8L1262.8 2128.1L1265.2 2120.1L1267.6 2117.3L1269.9 2113.7L1272.3 2122.3L1274.7 2114.1L1277 2123.2L1279.4 2123.7L1281.8 2106.9L1284.1 2112L1286.5 2125.8L1288.9 2121L1291.2 2115.5L1293.6 2104.1L1295.9 2109L1298.3 2111.2L1300.7 2132.4L1303 2118.8L1305.4 2114.5L1307.8 2115.6L1310.1 2115.5L1312.5 2120.5L1314.9 2103.5L1317.2 2105L1319.6 2117L1322 2123.7L1324.3 2098.8L1326.7 2120.4L1329.1 2106.7L1331.4 2101.6L1333.8 2125.4L1336.2 2115.8L1338.5 2121.9L1340.9 2116.4L1343.2 2119.9L1345.6 2108.6L1348 2120.8L1350.3 2125.5L1352.7 2114.9L1355.1 2124.4L1357.4 2123.6L1359.8 2101.4L1362.2 2126.3L1364.5 2124L1366.9 2119.9L1369.3 2128.7L1371.6 2136.6L1374 2109.4L1376.4 2122.9L1378.7 2119.5L1381.1 2116.8L1383.5 2120.8L1385.8 2120.6L1388.2 2109.8L1390.5 2090.7L1392.9 2103.7L1395.3 2103.1L1397.6 2121.2L1400 2109.2L1402.4 2119.1L1404.7 2103.4L1407.1 2111.5L1409.5 2108.7L1411.8 2108.8L1414.2 2112.2L1416.6 2120L1418.9 2103.8L1421.3 2121.4L1423.7 2121.5L1426 2115.9L1428.4 2120.7L1430.8 2114.2L1433.1 2109.9L1435.5 2118.5L1437.8 2121.2L1440.2 2124.6L1442.6 2119.1L1444.9 2142L1447.3 2124.3L1449.7 2134.9L1452 2137.1L1454.4 2126.5L1456.8 2129.2L1459.1 2121.1L1461.5 2116.9L1463.9 2145.1L1466.2 2126.8L1468.6 2110.5L1471 2120.1L1473.3 2116.5L1475.7 2128.4L1478.1 2141L1480.4 2136.9L1482.8 2119L1485.1 2113L1487.5 2123L1489.9 2116.1L1492.2 2109.7L1494.6 2125L1497 2113.2L1499.3 2097.1L1501.7 2092.5L1504.1 2111.2L1506.4 2094.9L1508.8 2113.9L1511.2 2116.1L1513.5 2128L1515.9 2102.6L1518.3 2115L1520.6 2095L1523 2114.4L1525.4 2118.7L1527.7 2137.6L1530.1 2111.6L1532.4 2126.5L1534.8 2123.2L1537.2 2138L1539.5 2110.7L1541.9 2109.3L1544.3 2122.5L1546.6 2117.9L1549 2117.4L1551.4 2115.2L1553.7 2124.6L1556.1 2113.1L1558.5 2129.9L1560.8 2132.7L1563.2 2130.6L1565.6 2146L1567.9 2129.9L1570.3 2112.9L1572.7 2116.7L1575 2123.6L1577.4 2112.6L1579.7 2131L1582.1 2115.9L1584.5 2108.1L1586.8 2105.1L1589.2 2115.1L1591.6 2099.2L1593.9 2089.8L1596.3 2107.9L1598.7 2098.6L1601 2118.2L1603.4 2122.4L1605.8 2101.8L1608.1 2106.2L1610.5 2104L1612.9 2109.1L1615.2 2105.4L1617.6 2095.5L1620 2087.9L1622.3 2104.1L1624.7 2116.5L1627 2093.3L1629.4 2099.6L1631.8 2099.9L1634.1 2105.3L1636.5 2089.1L1638.9 2109.3L1641.2 2108.4L1643.6 2130.7L1646 2123L1648.3 2125.9L1650.7 2121.5L1653.1 2118.9L1655.4 2128.2L1657.8 2107.8L1660.2 2130.6L1662.5 2125.7L1664.9 2120.6L1667.2 2133.6L1669.6 2119.3L1672 2118.8L1674.3 2125.6L1676.7 2106.1L1679.1 2119.2L1681.4 2115.7L1683.8 2124.3L1686.2 2129.1L1688.5 2119.9L1690.9 2117.2L1693.3 2118.5L1695.6 2108.7L1698 2134.5L1700.4 2123.5L1702.7 2127.9L1705.1 2100.1L1707.5 2113.9L1709.8 2112.2" stroke="#ff141c" stroke-width="4" fill="none" stroke-linejoin="round"/><path d="M1028.7 2227.4h0M1031.1 2230.7h0M1033.4 2223.2h0M1035.8 2223.4h0M1038.2 2213.8h0M1040.5 2227.3h0M1042.9 2227.6h0M1045.3 2221.2h0M1047.6 2231.6h0M1050 2228.4h0M1052.4 2211.7h0M1054.7 2211.8h0M1057.1 2216.9h0M1059.4 2217.9h0M1061.8 2226.3h0M1064.2 2212.4h0M1066.5 2215.3h0M1068.9 2213h0M1071.3 2217.8h0M1073.6 2212h0M1076 2211.4h0M1078.4 2205.1h0M1080.7 2194.1h0M1083.1 2201.2h0M1085.5 2216.7h0M1087.8 2210.4h0M1090.2 2214.8h0M1092.6 2207.2h0M1094.9 2194.2h0M1097.3 2193h0M1099.7 2198.7h0M1102 2189.5h0M1104.4 2196.5h0M1106.7 2201.3h0M1109.1 2200.9h0M1111.5 2196h0M1113.8 2176.7h0M1116.2 2198.2h0M1118.6 2175.6h0M1120.9 2173.1h0M1123.3 2183.5h0M1125.7 2180.2h0M1128 2182.4h0M1130.4 2175.4h0M1132.8 2168.4h0M1135.1 2173.3h0M1137.5 2165.6h0M1139.9 2164.8h0M1142.2 2171.9h0M1144.6 2171.5h0M1147 2173.7h0M1149.3 2169.2h0M1151.7 2180.6h0M1154 2168.3h0M1156.4 2170.5h0M1158.8 2179.9h0M1161.1 2155.3h0M1163.5 2180h0M1165.9 2177.3h0M1168.2 2165.1h0M1170.6 2180h0M1173 2167.3h0M1175.3 2170.4h0M1177.7 2163.9h0M1180.1 2156.2h0M1182.4 2152.3h0M1184.8 2145.6h0M1187.2 2147.1h0M1189.5 2142h0M1191.9 2144.1h0M1194.2 2150.1h0M1196.6 2135.4h0M1199 2148.2h0M1201.3 2150.3h0M1203.7 2134.6h0M1206.1 2142.5h0M1208.4 2147.9h0M1210.8 2142.8h0M1213.2 2139.5h0M1215.5 2154.7h0M1217.9 2141h0M1220.3 2147.1h0M1222.6 2134.8h0M1225 2140.7h0M1227.4 2124.2h0M1229.7 2131.3h0M1232.1 2142.1h0M1234.5 2134.9h0M1236.8 2143.2h0M1239.2 2131.1h0M1241.6 2125.3h0M1243.9 2126.5h0M1246.3 2144.2h0M1248.6 2131.3h0M1251 2124.5h0M1253.4 2125.8h0M1255.7 2117.7h0M1258.1 2136.2h0M1260.5 2119.8h0M1262.8 2128.1h0M1265.2 2120.1h0M1267.6 2117.3h0M1269.9 2113.7h0M1272.3 2122.3h0M1274.7 2114.1h0M1277 2123.2h0M1279.4 2123.7h0M1281.8 2106.9h0M1284.1 2112h0M1286.5 2125.8h0M1288.9 2121h0M1291.2 2115.5h0M1293.6 2104.1h0M1295.9 2109h0M1298.3 2111.2h0M1300.7 2132.4h0M1303 2118.8h0M1305.4 2114.5h0M1307.8 2115.6h0M1310.1 2115.5h0M1312.5 2120.5h0M1314.9 2103.5h0M1317.2 2105h0M1319.6 2117h0M1322 2123.7h0M1324.3 2098.8h0M1326.7 2120.4h0M1329.1 2106.7h0M1331.4 2101.6h0M1333.8 2125.4h0M1336.2 2115.8h0M1338.5 2121.9h0M1340.9 2116.4h0M1343.2 2119.9h0M1345.6 2108.6h0M1348 2120.8h0M1350.3 2125.5h0M1352.7 2114.9h0M1355.1 2124.4h0M1357.4 2123.6h0M1359.8 2101.4h0M1362.2 2126.3h0M1364.5 2124h0M1366.9 2119.9h0M1369.3 2128.7h0M1371.6 2136.6h0M1374 2109.4h0M1376.4 2122.9h0M1378.7 2119.5h0M1381.1 2116.8h0M1383.5 2120.8h0M1385.8 2120.6h0M1388.2 2109.8h0M1390.5 2090.7h0M1392.9 2103.7h0M1395.3 2103.1h0M1397.6 2121.2h0M1400 2109.2h0M1402.4 2119.1h0M1404.7 2103.4h0M1407.1 2111.5h0M1409.5 2108.7h0M1411.8 2108.8h0M1414.2 2112.2h0M1416.6 2120h0M1418.9 2103.8h0M1421.3 2121.4h0M1423.7 2121.5h0M1426 2115.9h0M1428.4 2120.7h0M1430.8 2114.2h0M1433.1 2109.9h0M1435.5 2118.5h0M1437.8 2121.2h0M1440.2 2124.6h0M1442.6 2119.1h0M1444.9 2142h0M1447.3 2124.3h0M1449.7 2134.9h0M1452 2137.1h0M1454.4 2126.5h0M1456.8 2129.2h0M1459.1 2121.1h0M1461.5 2116.9h0M1463.9 2145.1h0M1466.2 2126.8h0M1468.6 2110.5h0M1471 2120.1h0M1473.3 2116.5h0M1475.7 2128.4h0M1478.1 2141h0M1480.4 2136.9h0M1482.8 2119h0M1485.1 2113h0M1487.5 2123h0M1489.9 2116.1h0M1492.2 2109.7h0M1494.6 2125h0M1497 2113.2h0M1499.3 2097.1h0M1501.7 2092.5h0M1504.1 2111.2h0M1506.4 2094.9h0M1508.8 2113.9h0M1511.2 2116.1h0M1513.5 2128h0M1515.9 2102.6h0M1518.3 2115h0M1520.6 2095h0M1523 2114.4h0M1525.4 2118.7h0M1527.7 2137.6h0M1530.1 2111.6h0M1532.4 2126.5h0M1534.8 2123.2h0M1537.2 2138h0M1539.5 2110.7h0M1541.9 2109.3h0M1544.3 2122.5h0M1546.6 2117.9h0M1549 2117.4h0M1551.4 2115.2h0M1553.7 2124.6h0M1556.1 2113.1h0M1558.5 2129.9h0M1560.8 2132.7h0M1563.2 2130.6h0M1565.6 2146h0M1567.9 2129.9h0M1570.3 2112.9h0M1572.7 2116.7h0M1575 2123.6h0M1577.4 2112.6h0M1579.7 2131h0M1582.1 2115.9h0M1584.5 2108.1h0M1586.8 2105.1h0M1589.2 2115.1h0M1591.6 2099.2h0M1593.9 2089.8h0M1596.3 2107.9h0M1598.7 2098.6h0M1601 2118.2h0M1603.4 2122.4h0M1605.8 2101.8h0M1608.1 2106.2h0M1610.5 2104h0M1612.9 2109.1h0M1615.2 2105.4h0M1617.6 2095.5h0M1620 2087.9h0M1622.3 2104.1h0M1624.7 2116.5h0M1627 2093.3h0M1629.4 2099.6h0M1631.8 2099.9h0M1634.1 2105.3h0M1636.5 2089.1h0M1638.9 2109.3h0M1641.2 2108.4h0M1643.6 2130.7h0M1646 2123h0M1648.3 2125.9h0M1650.7 2121.5h0M1653.1 2118.9h0M1655.4 2128.2h0M1657.8 2107.8h0M1660.2 2130.6h0M1662.5 2125.7h0M1664.9 2120.6h0M1667.2 2133.6h0M1669.6 2119.3h0M1672 2118.8h0M1674.3 2125.6h0M1676.7 2106.1h0M1679.1 2119.2h0M1681.4 2115.7h0M1683.8 2124.3h0M1686.2 2129.1h0M1688.5 2119.9h0M1690.9 2117.2h0M1693.3 2118.5h0M1695.6 2108.7h0M1698 2134.5h0M1700.4 2123.5h0M1702.7 2127.9h0M1705.1 2100.1h0M1707.5 2113.9h0M1709.8 2112.2h0" stroke="#ff141c" stroke-width="13.6" stroke-linecap="round" fill="none"/></g><g clip-path="url(#c2)"><path d="M1738.2 2248L1740.6 2248L1742.9 2248L1745.3 2248L1747.7 2248L1750 2248L1752.4 2248L1754.8 2248L1757.1 2248L1759.5 2248L1761.9 2248L1764.2 2248L1766.6 2248L1768.9 2248L1771.3 2248L1773.7 2248L1776 2248L1778.4 2248L1780.8 2248L1783.1 2248L1785.5 2248L1787.9 2248L1790.2 2248L1792.6 2248L1795 2248.1L1797.3 2248.2L1799.7 2247L1802.1 2248.3L1804.4 2240.3L1806.8 2240.4L1809.2 2239.3L1811.5 2235.3L1813.9 2232.6L1816.2 2232.5L1818.6 2229.2L1821 2222.6L1823.3 2224.2L1825.7 2222.9L1828.1 2206.8L1830.4 2213.3L1832.8 2210.4L1835.2 2209.3L1837.5 2206.6L1839.9 2204.9L1842.3 2203.2L1844.6 2206.6L1847 2196L1849.4 2203.9L1851.7 2193.6L1854.1 2209L1856.5 2203.8L1858.8 2192.2L1861.2 2198.1L1863.5 2200.6L1865.9 2194.2L1868.3 2201L1870.6 2194L1873 2205.8L1875.4 2195.4L1877.7 2195.6L1880.1 2187.9L1882.5 2184.6L1884.8 2192.1L1887.2 2176.4L1889.6 2186L1891.9 2191.4L1894.3 2190.6L1896.7 2166.6L1899 2173L1901.4 2173.3L1903.8 2170.6L1906.1 2168.3L1908.5 2149.9L1910.8 2152.1L1913.2 2136.1L1915.6 2141.3L1917.9 2147.6L1920.3 2125.2L1922.7 2127.2L1925 2121.8L1927.4 2107L1929.8 2111.4L1932.1 2097L1934.5 2096L1936.9 2092.3L1939.2 2077.6L1941.6 2075.3L1944 2056.9L1946.3 2050.5L1948.7 2048.7L1951.1 2038.6L1953.4 2029.6L1955.8 2019.6L1958.1 1998.6L1960.5 1993.4L1962.9 1978.7L1965.2 1977.7L1967.6 1962.6L1970 1951.7L1972.3 1950L1974.7 1940.8L1977.1 1935.2L1979.4 1922.5L1981.8 1924.9L1984.2 1913L1986.5 1901.5L1988.9 1902.8L1991.3 1909.4L1993.6 1897L1996 1889.5L1998.4 1894.6L2000.7 1885.2L2003.1 1886.2L2005.4 1885.7L2007.8 1888.1L2010.2 1888.4L2012.5 1886.3L2014.9 1884.1L2017.3 1881.4L2019.6 1881.8L2022 1885.5L2024.4 1883.1L2026.7 1880.8L2029.1 1891L2031.5 1885.4L2033.8 1884.6L2036.2 1880.5L2038.6 1880.1L2040.9 1879.4L2043.3 1882.3L2045.7 1873.5L2048 1875.4L2050.4 1885.7L2052.7 1876.3L2055.1 1882.1L2057.5 1866.1L2058.9 1847L2062.2 1876.5L2064.6 1873.5L2066.9 1874.7L2069.3 1873.5L2071.7 1864.3L2074.5 1841.8L2076.4 1867.5L2078.8 1865.8L2081.1 1877.5L2083.5 1863.3L2085.9 1869.1L2088.2 1867.9L2090.6 1877.9L2093 1868.4L2095.3 1870.1L2097.7 1874.5L2100 1858.3L2102.4 1866.8L2104.8 1870.4L2107.1 1867.4L2109.5 1862.8L2111.9 1861.1L2114.2 1863.6L2116.6 1859.5L2119 1857.3L2121.3 1871.3L2123.7 1866.5L2126.1 1868.3L2128.4 1861.9L2130.8 1853.7L2133.2 1857.1L2134.6 1835.3L2137.9 1861.1L2140.2 1853.8L2142.6 1862.5L2145 1860.3L2147.3 1858.3L2149.7 1870L2152.1 1855.8L2154.4 1858.1L2156.8 1856.6L2159.2 1864.7L2161.5 1863.1L2163.9 1861.8L2165.8 1831.4L2168.6 1857.5L2171 1857L2173.4 1847.9L2175.7 1850.5L2178.6 1830.1L2180.5 1861.1L2182.8 1848L2185.2 1859L2187.6 1849.6L2189.9 1848.4L2192.3 1859.9L2194.6 1858.1L2197 1855.7L2199.4 1860.1L2201.7 1860L2204.1 1856.3L2206.9 1836.6L2208.8 1855.8L2211.2 1854.4L2213.6 1855.9L2215.9 1861.1L2218.3 1845.7L2220.7 1866.7L2222.6 1824.9L2225.4 1850.6L2227.8 1861.1L2230.1 1850.2L2232.5 1846.8L2234.8 1858.5L2237.2 1852.6L2239.6 1859.6L2241.9 1850.4L2244.3 1852.5L2246.7 1851.6L2248.6 1836.6L2251.4 1850.4L2253.8 1845.9L2256.1 1850.2L2258.5 1860.6L2260.9 1853L2263.2 1851.9L2265.6 1862.4L2268 1847L2270.3 1853.5L2272.7 1851.5L2275.1 1858.2L2277.4 1852.9L2279.8 1851.8L2282.2 1855.5L2284.5 1853.6L2286.9 1865.9L2289.2 1847L2291.6 1860.5L2294 1866.4L2296.3 1859.8L2298.7 1859.3L2301.1 1852.1L2303.4 1860.2L2305.8 1853.8L2308.2 1860.4L2310.5 1842.9L2312.9 1851.5L2315.3 1843.1L2317.6 1858.6L2320 1848.6L2322.4 1856.8L2324.7 1847.9L2327.1 1847L2329.4 1859.1L2331.3 1834.1L2334.2 1856.7L2336.5 1859.1L2338.9 1855.6L2341.3 1857.9L2343.6 1861.4L2346 1853.4L2348.4 1850.9L2350.7 1860.4L2353.1 1855.3L2355.5 1851.3L2357.8 1851.7L2360.2 1853.5L2362.6 1844.8L2364.9 1844.4L2367.3 1845.3L2369.7 1850.3L2372 1838.5L2374.4 1840.1L2376.8 1851.9L2379.1 1850.3L2381.5 1843L2383.8 1853.5L2386.7 1814.7L2388.6 1848.3L2390.9 1852.3L2393.3 1849.7L2395.7 1857.1L2398.5 1808.3L2400.4 1859.4L2402.8 1836.2L2405.1 1841L2407.5 1843.4L2409.9 1849.6L2412.2 1847.1L2414.6 1847.1L2417 1849.9L2419.3 1851.7" stroke="#aa50a8" stroke-width="4" fill="none" stroke-linejoin="round"/><path d="M1738.2 2248h0M1740.6 2248h0M1742.9 2248h0M1745.3 2248h0M1747.7 2248h0M1750 2248h0M1752.4 2248h0M1754.8 2248h0M1757.1 2248h0M1759.5 2248h0M1761.9 2248h0M1764.2 2248h0M1766.6 2248h0M1768.9 2248h0M1771.3 2248h0M1773.7 2248h0M1776 2248h0M1778.4 2248h0M1780.8 2248h0M1783.1 2248h0M1785.5 2248h0M1787.9 2248h0M1790.2 2248h0M1792.6 2248h0M1795 2248.1h0M1797.3 2248.2h0M1799.7 2247h0M1802.1 2248.3h0M1804.4 2240.3h0M1806.8 2240.4h0M1809.2 2239.3h0M1811.5 2235.3h0M1813.9 2232.6h0M1816.2 2232.5h0M1818.6 2229.2h0M1821 2222.6h0M1823.3 2224.2h0M1825.7 2222.9h0M1828.1 2206.8h0M1830.4 2213.3h0M1832.8 2210.4h0M1835.2 2209.3h0M1837.5 2206.6h0M1839.9 2204.9h0M1842.3 2203.2h0M1844.6 2206.6h0M1847 2196h0M1849.4 2203.9h0M1851.7 2193.6h0M1854.1 2209h0M1856.5 2203.8h0M1858.8 2192.2h0M1861.2 2198.1h0M1863.5 2200.6h0M1865.9 2194.2h0M1868.3 2201h0M1870.6 2194h0M1873 2205.8h0M1875.4 2195.4h0M1877.7 2195.6h0M1880.1 2187.9h0M1882.5 2184.6h0M1884.8 2192.1h0M1887.2 2176.4h0M1889.6 2186h0M1891.9 2191.4h0M1894.3 2190.6h0M1896.7 2166.6h0M1899 2173h0M1901.4 2173.3h0M1903.8 2170.6h0M1906.1 2168.3h0M1908.5 2149.9h0M1910.8 2152.1h0M1913.2 2136.1h0M1915.6 2141.3h0M1917.9 2147.6h0M1920.3 2125.2h0M1922.7 2127.2h0M1925 2121.8h0M1927.4 2107h0M1929.8 2111.4h0M1932.1 2097h0M1934.5 2096h0M1936.9 2092.3h0M1939.2 2077.6h0M1941.6 2075.3h0M1944 2056.9h0M1946.3 2050.5h0M1948.7 2048.7h0M1951.1 2038.6h0M1953.4 2029.6h0M1955.8 2019.6h0M1958.1 1998.6h0M1960.5 1993.4h0M1962.9 1978.7h0M1965.2 1977.7h0M1967.6 1962.6h0M1970 1951.7h0M1972.3 1950h0M1974.7 1940.8h0M1977.1 1935.2h0M1979.4 1922.5h0M1981.8 1924.9h0M1984.2 1913h0M1986.5 1901.5h0M1988.9 1902.8h0M1991.3 1909.4h0M1993.6 1897h0M1996 1889.5h0M1998.4 1894.6h0M2000.7 1885.2h0M2003.1 1886.2h0M2005.4 1885.7h0M2007.8 1888.1h0M2010.2 1888.4h0M2012.5 1886.3h0M2014.9 1884.1h0M2017.3 1881.4h0M2019.6 1881.8h0M2022 1885.5h0M2024.4 1883.1h0M2026.7 1880.8h0M2029.1 1891h0M2031.5 1885.4h0M2033.8 1884.6h0M2036.2 1880.5h0M2038.6 1880.1h0M2040.9 1879.4h0M2043.3 1882.3h0M2045.7 1873.5h0M2048 1875.4h0M2050.4 1885.7h0M2052.7 1876.3h0M2055.1 1882.1h0M2057.5 1866.1h0M2058.9 1847h0M2062.2 1876.5h0M2064.6 1873.5h0M2066.9 1874.7h0M2069.3 1873.5h0M2071.7 1864.3h0M2074.5 1841.8h0M2076.4 1867.5h0M2078.8 1865.8h0M2081.1 1877.5h0M2083.5 1863.3h0M2085.9 1869.1h0M2088.2 1867.9h0M2090.6 1877.9h0M2093 1868.4h0M2095.3 1870.1h0M2097.7 1874.5h0M2100 1858.3h0M2102.4 1866.8h0M2104.8 1870.4h0M2107.1 1867.4h0M2109.5 1862.8h0M2111.9 1861.1h0M2114.2 1863.6h0M2116.6 1859.5h0M2119 1857.3h0M2121.3 1871.3h0M2123.7 1866.5h0M2126.1 1868.3h0M2128.4 1861.9h0M2130.8 1853.7h0M2133.2 1857.1h0M2134.6 1835.3h0M2137.9 1861.1h0M2140.2 1853.8h0M2142.6 1862.5h0M2145 1860.3h0M2147.3 1858.3h0M2149.7 1870h0M2152.1 1855.8h0M2154.4 1858.1h0M2156.8 1856.6h0M2159.2 1864.7h0M2161.5 1863.1h0M2163.9 1861.8h0M2165.8 1831.4h0M2168.6 1857.5h0M2171 1857h0M2173.4 1847.9h0M2175.7 1850.5h0M2178.6 1830.1h0M2180.5 1861.1h0M2182.8 1848h0M2185.2 1859h0M2187.6 1849.6h0M2189.9 1848.4h0M2192.3 1859.9h0M2194.6 1858.1h0M2197 1855.7h0M2199.4 1860.1h0M2201.7 1860h0M2204.1 1856.3h0M2206.9 1836.6h0M2208.8 1855.8h0M2211.2 1854.4h0M2213.6 1855.9h0M2215.9 1861.1h0M2218.3 1845.7h0M2220.7 1866.7h0M2222.6 1824.9h0M2225.4 1850.6h0M2227.8 1861.1h0M2230.1 1850.2h0M2232.5 1846.8h0M2234.8 1858.5h0M2237.2 1852.6h0M2239.6 1859.6h0M2241.9 1850.4h0M2244.3 1852.5h0M2246.7 1851.6h0M2248.6 1836.6h0M2251.4 1850.4h0M2253.8 1845.9h0M2256.1 1850.2h0M2258.5 1860.6h0M2260.9 1853h0M2263.2 1851.9h0M2265.6 1862.4h0M2268 1847h0M2270.3 1853.5h0M2272.7 1851.5h0M2275.1 1858.2h0M2277.4 1852.9h0M2279.8 1851.8h0M2282.2 1855.5h0M2284.5 1853.6h0M2286.9 1865.9h0M2289.2 1847h0M2291.6 1860.5h0M2294 1866.4h0M2296.3 1859.8h0M2298.7 1859.3h0M2301.1 1852.1h0M2303.4 1860.2h0M2305.8 1853.8h0M2308.2 1860.4h0M2310.5 1842.9h0M2312.9 1851.5h0M2315.3 1843.1h0M2317.6 1858.6h0M2320 1848.6h0M2322.4 1856.8h0M2324.7 1847.9h0M2327.1 1847h0M2329.4 1859.1h0M2331.3 1834.1h0M2334.2 1856.7h0M2336.5 1859.1h0M2338.9 1855.6h0M2341.3 1857.9h0M2343.6 1861.4h0M2346 1853.4h0M2348.4 1850.9h0M2350.7 1860.4h0M2353.1 1855.3h0M2355.5 1851.3h0M2357.8 1851.7h0M2360.2 1853.5h0M2362.6 1844.8h0M2364.9 1844.4h0M2367.3 1845.3h0M2369.7 1850.3h0M2372 1838.5h0M2374.4 1840.1h0M2376.8 1851.9h0M2379.1 1850.3h0M2381.5 1843h0M2383.8 1853.5h0M2386.7 1814.7h0M2388.6 1848.3h0M2390.9 1852.3h0M2393.3 1849.7h0M2395.7 1857.1h0M2398.5 1808.3h0M2400.4 1859.4h0M2402.8 1836.2h0M2405.1 1841h0M2407.5 1843.4h0M2409.9 1849.6h0M2412.2 1847.1h0M2414.6 1847.1h0M2417 1849.9h0M2419.3 1851.7h0" stroke="#aa50a8" stroke-width="13.6" stroke-linecap="round" fill="none"/><path d="M1738.2 2248L1740.6 2248L1742.9 2248L1745.3 2248L1747.7 2248L1750 2248L1752.4 2248L1754.8 2248L1757.1 2248L1759.5 2248L1761.9 2248L1764.2 2248L1766.6 2248L1768.9 2248L1771.3 2248L1773.7 2248L1776 2248L1778.4 2248L1780.8 2248L1783.1 2238.4L1785.5 2225.8L1787.9 2222.9L1790.2 2214.2L1792.6 2221.4L1795 2203.2L1797.3 2185.3L1799.7 2193.6L1802.1 2180.2L1804.4 2168.6L1806.8 2159.3L1809.2 2146.7L1811.5 2154.6L1813.9 2140.1L1816.2 2130.2L1818.6 2133.9L1821 2122.6L1823.3 2109.1L1825.7 2107.6L1828.1 2107.8L1830.4 2119L1832.8 2105.2L1835.2 2100.6L1837.5 2101.8L1839.9 2099.4L1842.3 2084.5L1844.6 2098.6L1847 2101.3L1849.4 2094.8L1851.7 2090.8L1854.1 2082.4L1856.5 2078.5L1858.8 2072.5L1861.2 2073.2L1863.5 2078.3L1865.9 2072.4L1868.3 2068.3L1870.6 2071L1873 2062.1L1875.4 2061.8L1877.7 2067.5L1880.1 2059.4L1882.5 2049.7L1884.8 2049.5L1887.2 2054.7L1889.6 2048.6L1891.9 2053.8L1894.3 2055.5L1896.7 2044.8L1899 2044.4L1901.4 2041.5L1903.8 2042.5L1906.1 2039.9L1908.5 2042.9L1910.8 2038.1L1913.2 2036L1915.6 2039.2L1917.9 2034.4L1920.3 2044.8L1922.7 2038.9L1925 2027.3L1927.4 2024.2L1929.8 2029.3L1932.1 2029.5L1934.5 2033.7L1936.9 2025.9L1939.2 2023.6L1941.6 2033.3L1944 2023.9L1946.3 2023.9L1948.7 2023.1L1951.1 2028.4L1953.4 2019.3L1955.8 2026.9L1958.1 2012.9L1960.5 2018.6L1962.9 2024L1965.2 2012.3L1967.6 2012.7L1970 2020.2L1972.3 2006.9L1974.7 2020.7L1977.1 2014.4L1979.4 2010L1981.8 2025L1984.2 2009.8L1986.5 2014L1988.9 2013.2L1991.3 2017.5L1993.6 2010.8L1996 2017.2L1998.4 2016.8L2000.7 2014.9L2003.1 2018.8L2005.4 2006.7L2007.8 2019.9L2010.2 2017.3L2012.5 2015L2014.9 2013.1L2017.3 2009.2L2019.6 2008.9L2022 2014L2024.4 2014.7L2026.7 2013L2029.1 2009.4L2031.5 2009.7L2033.8 2014.8L2036.2 2021.2L2038.6 2002L2040.9 2006.9L2043.3 2009.6L2045.7 2008.8L2048 2012.3L2050.4 2014.1L2052.7 2010.9L2055.1 2010.4L2057.5 2012.4L2059.8 2016.3L2062.2 2011.4L2064.6 2007.5L2066.9 2012.2L2069.3 2009.7L2071.7 2018.9L2074 2010.3L2076.4 2009.8L2078.8 2014.6L2081.1 2016.8L2083.5 2007.2L2085.9 2012.8L2088.2 2007.2L2090.6 2011.6L2093 2007.2L2095.3 2011.6L2097.7 2016.9L2100 2010.6L2102.4 2011.7L2104.8 2007.3L2107.1 2012.2L2109.5 2011.6L2111.9 2005.3L2114.2 2003.1L2116.6 2004L2119 2001.7L2121.3 2003.2L2123.7 2000.8L2126.1 1999.3L2128.4 2000.5L2130.8 2001.3L2133.2 2000.4L2135.5 1990L2137.9 2000.8L2140.2 2002.2L2142.6 2003.1L2145 2001.9L2147.3 2000.7L2149.7 2006.7L2152.1 2010.4L2154.4 2000.2L2156.8 2008.9L2159.2 2000.9L2161.5 2001.9L2163.9 1997.7L2165.8 2015.2L2168.6 2001.2L2171 2004.8L2173.4 2006.9L2175.7 2004.6L2178.1 2000.2L2180.5 2009L2182.8 1998.9L2185.2 1998.7L2187.6 1995.3L2189.9 1999.3L2192.3 1996.9L2194.6 2000L2197 1997.9L2199.4 2002.9L2201.7 1993.8L2204.1 1987.2L2206.5 1993.4L2208.8 1992.6L2211.2 1998.5L2213.6 1987.5L2215.9 1996.9L2218.3 1989.5L2220.7 1992.4L2223 1997.2L2225.4 1988.8L2227.8 1979L2230.1 1994.1L2232.5 1993.5L2234.8 1995.7L2237.2 1997L2239.6 1992.7L2241.9 1996L2244.3 1993.5L2246.7 1996.7L2249 2000.6L2251.4 1997.2L2253.8 1996.6L2256.1 1994.5L2258.5 1989.5L2260.9 2002.6L2263.2 1994.7L2265.6 2005.3L2268 2000.1L2270.3 1997.5L2271.7 1979L2275.1 2002.7L2277.4 1993.5L2279.8 1993.9L2282.2 1995.2L2284.5 1999L2286.9 1986.5L2289.2 1997.5L2291.6 2000.9L2294 1989.5L2296.3 1993.8L2298.7 1997.7L2301.1 1990.3L2303.4 1994.8L2305.8 1992.7L2308.2 1994.6L2310.5 2000.4L2312.9 1991.5L2315.3 1995L2317.6 2000.1L2320 1998.9L2322.4 1991.2L2324.7 1997.1L2327.1 1995.4L2329.4 1992.9L2331.8 1995.6L2334.2 2003.3L2336.5 1993.7L2338.9 1992.4L2341.3 1992.7L2344.1 1973.8L2346 1994.4L2348.4 1992.2L2350.7 1988.3L2353.1 1996.5L2355.5 1987.3L2357.8 1987.3L2360.2 1991.5L2362.6 1986.6L2364.9 1990.7L2367.3 1998L2369.7 1988.6L2372 1992L2374.4 1991.6L2376.8 1993L2379.1 1987.8L2381.5 1991.6L2383.8 1997.1L2386.2 1991.7L2388.6 1990.2L2390.9 1996.4L2393.3 1994.8L2395.7 1994.4L2398 1995.3L2400.4 1991.1L2402.8 1988.4L2405.1 1985L2407.5 1988.7L2409.9 1990.4L2412.2 1991.1L2414.6 1991.7L2417 2000.9L2419.3 1997.6" stroke="#00b141" stroke-width="4" fill="none" stroke-linejoin="round"/><path d="M1738.2 2248h0M1740.6 2248h0M1742.9 2248h0M1745.3 2248h0M1747.7 2248h0M1750 2248h0M1752.4 2248h0M1754.8 2248h0M1757.1 2248h0M1759.5 2248h0M1761.9 2248h0M1764.2 2248h0M1766.6 2248h0M1768.9 2248h0M1771.3 2248h0M1773.7 2248h0M1776 2248h0M1778.4 2248h0M1780.8 2248h0M1783.1 2238.4h0M1785.5 2225.8h0M1787.9 2222.9h0M1790.2 2214.2h0M1792.6 2221.4h0M1795 2203.2h0M1797.3 2185.3h0M1799.7 2193.6h0M1802.1 2180.2h0M1804.4 2168.6h0M1806.8 2159.3h0M1809.2 2146.7h0M1811.5 2154.6h0M1813.9 2140.1h0M1816.2 2130.2h0M1818.6 2133.9h0M1821 2122.6h0M1823.3 2109.1h0M1825.7 2107.6h0M1828.1 2107.8h0M1830.4 2119h0M1832.8 2105.2h0M1835.2 2100.6h0M1837.5 2101.8h0M1839.9 2099.4h0M1842.3 2084.5h0M1844.6 2098.6h0M1847 2101.3h0M1849.4 2094.8h0M1851.7 2090.8h0M1854.1 2082.4h0M1856.5 2078.5h0M1858.8 2072.5h0M1861.2 2073.2h0M1863.5 2078.3h0M1865.9 2072.4h0M1868.3 2068.3h0M1870.6 2071h0M1873 2062.1h0M1875.4 2061.8h0M1877.7 2067.5h0M1880.1 2059.4h0M1882.5 2049.7h0M1884.8 2049.5h0M1887.2 2054.7h0M1889.6 2048.6h0M1891.9 2053.8h0M1894.3 2055.5h0M1896.7 2044.8h0M1899 2044.4h0M1901.4 2041.5h0M1903.8 2042.5h0M1906.1 2039.9h0M1908.5 2042.9h0M1910.8 2038.1h0M1913.2 2036h0M1915.6 2039.2h0M1917.9 2034.4h0M1920.3 2044.8h0M1922.7 2038.9h0M1925 2027.3h0M1927.4 2024.2h0M1929.8 2029.3h0M1932.1 2029.5h0M1934.5 2033.7h0M1936.9 2025.9h0M1939.2 2023.6h0M1941.6 2033.3h0M1944 2023.9h0M1946.3 2023.9h0M1948.7 2023.1h0M1951.1 2028.4h0M1953.4 2019.3h0M1955.8 2026.9h0M1958.1 2012.9h0M1960.5 2018.6h0M1962.9 2024h0M1965.2 2012.3h0M1967.6 2012.7h0M1970 2020.2h0M1972.3 2006.9h0M1974.7 2020.7h0M1977.1 2014.4h0M1979.4 2010h0M1981.8 2025h0M1984.2 2009.8h0M1986.5 2014h0M1988.9 2013.2h0M1991.3 2017.5h0M1993.6 2010.8h0M1996 2017.2h0M1998.4 2016.8h0M2000.7 2014.9h0M2003.1 2018.8h0M2005.4 2006.7h0M2007.8 2019.9h0M2010.2 2017.3h0M2012.5 2015h0M2014.9 2013.1h0M2017.3 2009.2h0M2019.6 2008.9h0M2022 2014h0M2024.4 2014.7h0M2026.7 2013h0M2029.1 2009.4h0M2031.5 2009.7h0M2033.8 2014.8h0M2036.2 2021.2h0M2038.6 2002h0M2040.9 2006.9h0M2043.3 2009.6h0M2045.7 2008.8h0M2048 2012.3h0M2050.4 2014.1h0M2052.7 2010.9h0M2055.1 2010.4h0M2057.5 2012.4h0M2059.8 2016.3h0M2062.2 2011.4h0M2064.6 2007.5h0M2066.9 2012.2h0M2069.3 2009.7h0M2071.7 2018.9h0M2074 2010.3h0M2076.4 2009.8h0M2078.8 2014.6h0M2081.1 2016.8h0M2083.5 2007.2h0M2085.9 2012.8h0M2088.2 2007.2h0M2090.6 2011.6h0M2093 2007.2h0M2095.3 2011.6h0M2097.7 2016.9h0M2100 2010.6h0M2102.4 2011.7h0M2104.8 2007.3h0M2107.1 2012.2h0M2109.5 2011.6h0M2111.9 2005.3h0M2114.2 2003.1h0M2116.6 2004h0M2119 2001.7h0M2121.3 2003.2h0M2123.7 2000.8h0M2126.1 1999.3h0M2128.4 2000.5h0M2130.8 2001.3h0M2133.2 2000.4h0M2135.5 1990h0M2137.9 2000.8h0M2140.2 2002.2h0M2142.6 2003.1h0M2145 2001.9h0M2147.3 2000.7h0M2149.7 2006.7h0M2152.1 2010.4h0M2154.4 2000.2h0M2156.8 2008.9h0M2159.2 2000.9h0M2161.5 2001.9h0M2163.9 1997.7h0M2165.8 2015.2h0M2168.6 2001.2h0M2171 2004.8h0M2173.4 2006.9h0M2175.7 2004.6h0M2178.1 2000.2h0M2180.5 2009h0M2182.8 1998.9h0M2185.2 1998.7h0M2187.6 1995.3h0M2189.9 1999.3h0M2192.3 1996.9h0M2194.6 2000h0M2197 1997.9h0M2199.4 2002.9h0M2201.7 1993.8h0M2204.1 1987.2h0M2206.5 1993.4h0M2208.8 1992.6h0M2211.2 1998.5h0M2213.6 1987.5h0M2215.9 1996.9h0M2218.3 1989.5h0M2220.7 1992.4h0M2223 1997.2h0M2225.4 1988.8h0M2227.8 1979h0M2230.1 1994.1h0M2232.5 1993.5h0M2234.8 1995.7h0M2237.2 1997h0M2239.6 1992.7h0M2241.9 1996h0M2244.3 1993.5h0M2246.7 1996.7h0M2249 2000.6h0M2251.4 1997.2h0M2253.8 1996.6h0M2256.1 1994.5h0M2258.5 1989.5h0M2260.9 2002.6h0M2263.2 1994.7h0M2265.6 2005.3h0M2268 2000.1h0M2270.3 1997.5h0M2271.7 1979h0M2275.1 2002.7h0M2277.4 1993.5h0M2279.8 1993.9h0M2282.2 1995.2h0M2284.5 1999h0M2286.9 1986.5h0M2289.2 1997.5h0M2291.6 2000.9h0M2294 1989.5h0M2296.3 1993.8h0M2298.7 1997.7h0M2301.1 1990.3h0M2303.4 1994.8h0M2305.8 1992.7h0M2308.2 1994.6h0M2310.5 2000.4h0M2312.9 1991.5h0M2315.3 1995h0M2317.6 2000.1h0M2320 1998.9h0M2322.4 1991.2h0M2324.7 1997.1h0M2327.1 1995.4h0M2329.4 1992.9h0M2331.8 1995.6h0M2334.2 2003.3h0M2336.5 1993.7h0M2338.9 1992.4h0M2341.3 1992.7h0M2344.1 1973.8h0M2346 1994.4h0M2348.4 1992.2h0M2350.7 1988.3h0M2353.1 1996.5h0M2355.5 1987.3h0M2357.8 1987.3h0M2360.2 1991.5h0M2362.6 1986.6h0M2364.9 1990.7h0M2367.3 1998h0M2369.7 1988.6h0M2372 1992h0M2374.4 1991.6h0M2376.8 1993h0M2379.1 1987.8h0M2381.5 1991.6h0M2383.8 1997.1h0M2386.2 1991.7h0M2388.6 1990.2h0M2390.9 1996.4h0M2393.3 1994.8h0M2395.7 1994.4h0M2398 1995.3h0M2400.4 1991.1h0M2402.8 1988.4h0M2405.1 1985h0M2407.5 1988.7h0M2409.9 1990.4h0M2412.2 1991.1h0M2414.6 1991.7h0M2417 2000.9h0M2419.3 1997.6h0" stroke="#00b141" stroke-width="13.6" stroke-linecap="round" fill="none"/><path d="M1738.2 2248L1740.6 2248L1742.9 2248L1745.3 2248L1747.7 2248L1750 2248L1752.4 2248L1754.8 2248L1757.1 2248L1759.5 2248L1761.9 2248L1764.2 2248L1766.6 2248L1768.9 2248L1771.3 2248L1773.7 2248L1776 2248L1778.4 2248L1780.8 2248L1783.1 2248L1785.5 2248L1787.9 2232.1L1790.2 2213.3L1792.6 2205.6L1795 2199.6L1797.3 2189.1L1799.7 2198.1L1802.1 2181.5L1804.4 2170.2L1806.8 2156.9L1809.2 2155.2L1811.5 2139.7L1813.9 2127.9L1816.2 2124L1818.6 2122.4L1821 2110.1L1823.3 2105.4L1825.7 2086.8L1828.1 2078.5L1830.4 2058.6L1832.8 2056.1L1835.2 2051.8L1837.5 2043.8L1839.9 2039.8L1842.3 2028.6L1844.6 2019.4L1847 2020.9L1849.4 2011.6L1851.7 2012.8L1854.1 2001.6L1856.5 1987.1L1858.8 1992.7L1861.2 1971.7L1863.5 1957.2L1865.9 1959.5L1868.3 1952.3L1870.6 1946.1L1873 1935.2L1875.4 1937.6L1877.7 1934.4L1880.1 1929.3L1882.5 1929.7L1884.8 1926.9L1887.2 1926.1L1889.6 1917.6L1891.9 1921.8L1894.3 1910.4L1896.7 1916.2L1899 1916.6L1901.4 1909.7L1903.8 1908.4L1906.1 1914.5L1908.5 1902.4L1910.8 1903.7L1913.2 1897.1L1915.6 1886.2L1917.9 1886.8L1920.3 1876.2L1922.7 1872.8L1925 1858.4L1927.4 1860.8L1929.8 1860.2L1932.1 1855.2L1934.5 1849.4L1936.9 1839.3L1939.2 1832.2L1941.6 1820.6L1944 1815.9L1946.3 1809.5L1948.7 1802.9L1951.1 1799.1L1953.4 1792.1L1955.8 1784.7L1958.1 1778.9L1960.5 1778L1962.9 1776.6L1965.2 1767.3L1967.6 1757.7L1970 1762.8L1972.3 1750.3L1974.7 1741.9L1977.1 1740.8L1979.4 1737.9L1981.8 1722.1L1984.2 1718.3L1986.5 1719L1988.9 1707.8L1991.3 1702.8L1993.6 1707L1996 1688.4L1998.4 1697.5L2000.7 1690.5L2003.1 1689L2005.4 1680L2007.8 1680.8L2010.2 1671.8L2012.5 1663.9L2014.9 1663.5L2017.3 1661.7L2019.6 1651.4L2022 1657L2024.4 1646.7L2026.7 1648.2L2029.1 1643L2031.5 1640.5L2033.8 1636.8L2036.2 1634.1L2038.6 1633.7L2040.9 1630L2043.3 1623.5L2045.7 1622.7L2048 1623.5L2050.4 1618.3L2052.7 1614.5L2055.1 1608.4L2057.5 1604L2059.8 1601.1L2062.2 1600.8L2064.6 1595.5L2066.9 1598L2069.3 1601L2071.7 1587.9L2074 1591.5L2076.4 1586.9L2078.8 1586.4L2081.1 1578.4L2083.5 1584.2L2085.9 1577.4L2088.2 1578.5L2090.6 1578.8L2093 1576.9L2095.3 1566.1L2097.7 1563.7L2100 1560.4L2102.4 1555.1L2104.8 1560L2107.1 1559.3L2109.5 1560.1L2111.9 1558.4L2114.2 1558.9L2116.6 1559.5L2119 1547.1L2121.3 1559.8L2123.7 1550.4L2126.1 1548.3L2128.4 1548.1L2130.8 1551.3L2133.2 1547.5L2135.5 1547.6L2137.9 1549L2140.2 1544.1L2142.6 1544.2L2145 1543.4L2147.3 1537.3L2149.7 1542.3L2152.1 1535.4L2154.4 1538L2156.8 1532.9L2159.2 1533L2161.5 1531.2L2163.9 1534.7L2166.3 1533L2168.6 1532.6L2171 1528.2L2173.4 1525.6L2175.7 1523.8L2178.1 1528.9L2180.5 1525.8L2182.8 1531.2L2185.2 1532.5L2187.6 1526.8L2189.9 1525.6L2192.3 1528.4L2194.6 1528.6L2197 1519.3L2199.4 1523.4L2201.7 1525.7L2204.1 1509.8L2206.5 1516.7L2208.8 1517.6L2211.2 1513L2213.6 1517.7L2215.9 1508.6L2218.3 1520.1L2220.7 1519.2L2223 1514.7L2225.4 1516.6L2227.8 1507.9L2230.1 1518.2L2232.5 1514.1L2234.8 1509.6L2237.2 1507.7L2239.6 1505.3L2241.9 1507.1L2244.3 1499.6L2246.7 1509.1L2249 1506.5L2251.4 1504.2L2253.8 1508.9L2256.1 1509.1L2258.5 1509.9L2260.9 1510.3L2263.2 1511.5L2265.6 1508.8L2268 1511.9L2270.3 1504.3L2272.7 1511.4L2275.1 1497.7L2277.4 1499L2279.8 1501.2L2282.2 1506.1L2284.5 1507.4L2286.9 1500.5L2289.2 1504L2291.6 1502.1L2294 1506.1L2296.3 1498.7L2298.7 1505L2301.1 1501.1L2303.4 1507.6L2305.8 1503.5L2308.2 1499.1L2310.5 1502.6L2312.9 1502.5L2315.3 1497.7L2317.6 1500.7L2320 1495.6L2322.4 1509L2324.7 1497.7L2327.1 1497.8L2329.4 1505.1L2331.8 1503.9L2334.2 1495.4L2336.5 1502.3L2338.9 1500.3L2341.3 1495.4L2343.6 1498.5L2346 1495.2L2348.4 1499.7L2350.7 1494.9L2353.1 1491.5L2355.5 1493.8L2357.8 1502.8L2360.2 1491.9L2362.6 1493.8L2364.9 1497.2L2367.3 1488.5L2369.7 1500.1L2372 1486.8L2374.4 1496.3L2376.8 1488.2L2379.1 1494.3L2381.5 1498.9L2383.8 1493.3L2386.2 1491.8L2388.6 1490.3L2390.9 1487.5L2393.3 1493.9L2395.7 1488.2L2398 1487L2400.4 1490.7L2402.8 1493.3L2405.1 1493.6L2407.5 1487.5L2409.9 1487.5L2412.2 1493.8L2414.6 1496.1L2417 1487.2L2419.3 1498.4" stroke="#037dbb" stroke-width="4" fill="none" stroke-linejoin="round"/><path d="M1738.2 2248h0M1740.6 2248h0M1742.9 2248h0M1745.3 2248h0M1747.7 2248h0M1750 2248h0M1752.4 2248h0M1754.8 2248h0M1757.1 2248h0M1759.5 2248h0M1761.9 2248h0M1764.2 2248h0M1766.6 2248h0M1768.9 2248h0M1771.3 2248h0M1773.7 2248h0M1776 2248h0M1778.4 2248h0M1780.8 2248h0M1783.1 2248h0M1785.5 2248h0M1787.9 2232.1h0M1790.2 2213.3h0M1792.6 2205.6h0M1795 2199.6h0M1797.3 2189.1h0M1799.7 2198.1h0M1802.1 2181.5h0M1804.4 2170.2h0M1806.8 2156.9h0M1809.2 2155.2h0M1811.5 2139.7h0M1813.9 2127.9h0M1816.2 2124h0M1818.6 2122.4h0M1821 2110.1h0M1823.3 2105.4h0M1825.7 2086.8h0M1828.1 2078.5h0M1830.4 2058.6h0M1832.8 2056.1h0M1835.2 2051.8h0M1837.5 2043.8h0M1839.9 2039.8h0M1842.3 2028.6h0M1844.6 2019.4h0M1847 2020.9h0M1849.4 2011.6h0M1851.7 2012.8h0M1854.1 2001.6h0M1856.5 1987.1h0M1858.8 1992.7h0M1861.2 1971.7h0M1863.5 1957.2h0M1865.9 1959.5h0M1868.3 1952.3h0M1870.6 1946.1h0M1873 1935.2h0M1875.4 1937.6h0M1877.7 1934.4h0M1880.1 1929.3h0M1882.5 1929.7h0M1884.8 1926.9h0M1887.2 1926.1h0M1889.6 1917.6h0M1891.9 1921.8h0M1894.3 1910.4h0M1896.7 1916.2h0M1899 1916.6h0M1901.4 1909.7h0M1903.8 1908.4h0M1906.1 1914.5h0M1908.5 1902.4h0M1910.8 1903.7h0M1913.2 1897.1h0M1915.6 1886.2h0M1917.9 1886.8h0M1920.3 1876.2h0M1922.7 1872.8h0M1925 1858.4h0M1927.4 1860.8h0M1929.8 1860.2h0M1932.1 1855.2h0M1934.5 1849.4h0M1936.9 1839.3h0M1939.2 1832.2h0M1941.6 1820.6h0M1944 1815.9h0M1946.3 1809.5h0M1948.7 1802.9h0M1951.1 1799.1h0M1953.4 1792.1h0M1955.8 1784.7h0M1958.1 1778.9h0M1960.5 1778h0M1962.9 1776.6h0M1965.2 1767.3h0M1967.6 1757.7h0M1970 1762.8h0M1972.3 1750.3h0M1974.7 1741.9h0M1977.1 1740.8h0M1979.4 1737.9h0M1981.8 1722.1h0M1984.2 1718.3h0M1986.5 1719h0M1988.9 1707.8h0M1991.3 1702.8h0M1993.6 1707h0M1996 1688.4h0M1998.4 1697.5h0M2000.7 1690.5h0M2003.1 1689h0M2005.4 1680h0M2007.8 1680.8h0M2010.2 1671.8h0M2012.5 1663.9h0M2014.9 1663.5h0M2017.3 1661.7h0M2019.6 1651.4h0M2022 1657h0M2024.4 1646.7h0M2026.7 1648.2h0M2029.1 1643h0M2031.5 1640.5h0M2033.8 1636.8h0M2036.2 1634.1h0M2038.6 1633.7h0M2040.9 1630h0M2043.3 1623.5h0M2045.7 1622.7h0M2048 1623.5h0M2050.4 1618.3h0M2052.7 1614.5h0M2055.1 1608.4h0M2057.5 1604h0M2059.8 1601.1h0M2062.2 1600.8h0M2064.6 1595.5h0M2066.9 1598h0M2069.3 1601h0M2071.7 1587.9h0M2074 1591.5h0M2076.4 1586.9h0M2078.8 1586.4h0M2081.1 1578.4h0M2083.5 1584.2h0M2085.9 1577.4h0M2088.2 1578.5h0M2090.6 1578.8h0M2093 1576.9h0M2095.3 1566.1h0M2097.7 1563.7h0M2100 1560.4h0M2102.4 1555.1h0M2104.8 1560h0M2107.1 1559.3h0M2109.5 1560.1h0M2111.9 1558.4h0M2114.2 1558.9h0M2116.6 1559.5h0M2119 1547.1h0M2121.3 1559.8h0M2123.7 1550.4h0M2126.1 1548.3h0M2128.4 1548.1h0M2130.8 1551.3h0M2133.2 1547.5h0M2135.5 1547.6h0M2137.9 1549h0M2140.2 1544.1h0M2142.6 1544.2h0M2145 1543.4h0M2147.3 1537.3h0M2149.7 1542.3h0M2152.1 1535.4h0M2154.4 1538h0M2156.8 1532.9h0M2159.2 1533h0M2161.5 1531.2h0M2163.9 1534.7h0M2166.3 1533h0M2168.6 1532.6h0M2171 1528.2h0M2173.4 1525.6h0M2175.7 1523.8h0M2178.1 1528.9h0M2180.5 1525.8h0M2182.8 1531.2h0M2185.2 1532.5h0M2187.6 1526.8h0M2189.9 1525.6h0M2192.3 1528.4h0M2194.6 1528.6h0M2197 1519.3h0M2199.4 1523.4h0M2201.7 1525.7h0M2204.1 1509.8h0M2206.5 1516.7h0M2208.8 1517.6h0M2211.2 1513h0M2213.6 1517.7h0M2215.9 1508.6h0M2218.3 1520.1h0M2220.7 1519.2h0M2223 1514.7h0M2225.4 1516.6h0M2227.8 1507.9h0M2230.1 1518.2h0M2232.5 1514.1h0M2234.8 1509.6h0M2237.2 1507.7h0M2239.6 1505.3h0M2241.9 1507.1h0M2244.3 1499.6h0M2246.7 1509.1h0M2249 1506.5h0M2251.4 1504.2h0M2253.8 1508.9h0M2256.1 1509.1h0M2258.5 1509.9h0M2260.9 1510.3h0M2263.2 1511.5h0M2265.6 1508.8h0M2268 1511.9h0M2270.3 1504.3h0M2272.7 1511.4h0M2275.1 1497.7h0M2277.4 1499h0M2279.8 1501.2h0M2282.2 1506.1h0M2284.5 1507.4h0M2286.9 1500.5h0M2289.2 1504h0M2291.6 1502.1h0M2294 1506.1h0M2296.3 1498.7h0M2298.7 1505h0M2301.1 1501.1h0M2303.4 1507.6h0M2305.8 1503.5h0M2308.2 1499.1h0M2310.5 1502.6h0M2312.9 1502.5h0M2315.3 1497.7h0M2317.6 1500.7h0M2320 1495.6h0M2322.4 1509h0M2324.7 1497.7h0M2327.1 1497.8h0M2329.4 1505.1h0M2331.8 1503.9h0M2334.2 1495.4h0M2336.5 1502.3h0M2338.9 1500.3h0M2341.3 1495.4h0M2343.6 1498.5h0M2346 1495.2h0M2348.4 1499.7h0M2350.7 1494.9h0M2353.1 1491.5h0M2355.5 1493.8h0M2357.8 1502.8h0M2360.2 1491.9h0M2362.6 1493.8h0M2364.9 1497.2h0M2367.3 1488.5h0M2369.7 1500.1h0M2372 1486.8h0M2374.4 1496.3h0M2376.8 1488.2h0M2379.1 1494.3h0M2381.5 1498.9h0M2383.8 1493.3h0M2386.2 1491.8h0M2388.6 1490.3h0M2390.9 1487.5h0M2393.3 1493.9h0M2395.7 1488.2h0M2398 1487h0M2400.4 1490.7h0M2402.8 1493.3h0M2405.1 1493.6h0M2407.5 1487.5h0M2409.9 1487.5h0M2412.2 1493.8h0M2414.6 1496.1h0M2417 1487.2h0M2419.3 1498.4h0" stroke="#037dbb" stroke-width="13.6" stroke-linecap="round" fill="none"/><path d="M1738.2 2248L1740.6 2248L1742.9 2248L1745.3 2248L1747.7 2248L1750 2248L1752.4 2248L1754.8 2248L1757.1 2248L1759.5 2248L1761.9 2248L1764.2 2248L1766.6 2248L1768.9 2248L1771.3 2248L1773.7 2248L1776 2248L1778.4 2248L1780.8 2248L1783.1 2248L1785.5 2247.2L1787.9 2243.7L1790.2 2243.1L1792.6 2234.5L1795 2229.1L1797.3 2228.3L1799.7 2222.9L1802.1 2226.2L1804.4 2218.7L1806.8 2215.7L1809.2 2210.8L1811.5 2199.6L1813.9 2192.7L1816.2 2184.6L1818.6 2174.6L1821 2163.5L1823.3 2159.5L1825.7 2150L1828.1 2145.6L1830.4 2131.5L1832.8 2119.3L1835.2 2111.2L1837.5 2102.8L1839.9 2095.5L1842.3 2088.9L1844.6 2080.6L1847 2079.4L1849.4 2074.5L1851.7 2064.3L1854.1 2066.8L1856.5 2054.8L1858.8 2053.4L1861.2 2032.9L1863.5 2026.6L1865.9 2014.2L1868.3 2009.5L1870.6 1997.9L1873 1991.2L1875.4 1986.6L1877.7 1978.1L1880.1 1967.3L1882.5 1965.1L1884.8 1953.9L1887.2 1950.1L1889.6 1944.1L1891.9 1930.6L1894.3 1936L1896.7 1924L1899 1919.6L1901.4 1907.2L1903.8 1898.5L1906.1 1877.4L1908.5 1878.3L1910.8 1865.3L1913.2 1858.8L1915.6 1858.3L1917.9 1851L1920.3 1843.6L1922.7 1844.4L1925 1840.7L1927.4 1836.3L1929.8 1838.9L1932.1 1833.9L1934.5 1827.9L1936.9 1825L1939.2 1826.9L1941.6 1822.7L1944 1819.8L1946.3 1818L1948.7 1814L1951.1 1814.9L1953.4 1814.1L1955.8 1818.3L1958.1 1816.9L1960.5 1812.5L1962.9 1817.7L1965.2 1811.7L1967.6 1813.8L1970 1813.7L1972.3 1809.1L1974.7 1812.9L1977.1 1813.6L1979.4 1813.1L1981.8 1810.9L1984.2 1802.8L1986.5 1816.8L1988.9 1810.2L1991.3 1810.3L1993.6 1806.3L1996 1809.5L1998.4 1815L2000.7 1803.1L2003.1 1809.8L2005.4 1806.5L2007.8 1810.4L2010.2 1809.6L2012.5 1807.9L2014.9 1803.8L2017.3 1803.7L2019.6 1807.8L2022 1804.3L2024.4 1806.5L2026.7 1804.5L2029.1 1803.7L2031.5 1801.6L2033.8 1804.6L2036.2 1802.6L2038.6 1801.1L2040.9 1801L2043.3 1803.2L2045.7 1795.4L2048 1801.5L2050.4 1797.7L2052.7 1799.1L2055.1 1795.8L2057.5 1805.7L2059.8 1793L2062.2 1799.4L2064.6 1801.9L2066.9 1797.3L2069.3 1790.4L2071.7 1795.1L2074 1799.9L2076.4 1797.4L2078.8 1791.8L2081.1 1799.7L2083.5 1795.8L2085.9 1796.1L2088.2 1788.7L2090.6 1796L2093 1791.1L2095.3 1796.8L2097.7 1796.9L2100 1791.2L2102.4 1792.2L2104.8 1799L2107.1 1791.9L2109.5 1791.7L2111.9 1795L2114.2 1792.1L2116.6 1791.4L2119 1793.1L2121.3 1792.9L2123.7 1793L2126.1 1791.8L2128.4 1795.2L2130.8 1791.8L2133.2 1796.5L2135.5 1792.1L2137.9 1792.6L2140.2 1795.3L2142.6 1789.6L2145 1786.4L2147.3 1788.3L2149.7 1796.5L2152.1 1788.7L2154.4 1791.7L2156.8 1792.3L2159.2 1793.7L2161.5 1791.9L2163.9 1787.8L2166.3 1790.3L2168.6 1793L2171 1793.4L2173.4 1792.1L2175.7 1788.8L2178.1 1784.8L2180.5 1793.5L2182.8 1790.7L2185.2 1792L2187.6 1793L2189.9 1789.2L2192.3 1788L2194.6 1792.9L2197 1790.9L2199.4 1783.6L2201.7 1785.8L2204.1 1784.8L2206.5 1787.4L2208.8 1786.5L2211.2 1783.3L2213.6 1785.5L2215.9 1786.7L2218.3 1783.1L2220.7 1780.4L2223 1786.1L2225.4 1780.1L2227.8 1781.2L2230.1 1785.8L2232.5 1783L2234.8 1782.9L2237.2 1780.7L2239.6 1780.5L2241.9 1786.3L2244.3 1786.4L2246.7 1779.3L2249 1781.8L2251.4 1780.7L2253.8 1780.8L2256.1 1777.2L2258.5 1785.4L2260.9 1778.8L2263.2 1784.6L2265.6 1780.1L2268 1778.2L2270.3 1785.8L2272.7 1779.9L2275.1 1781.2L2277.4 1780.6L2279.8 1779.2L2282.2 1782.3L2284.5 1782.1L2286.9 1777.5L2289.2 1776.9L2291.6 1781L2294 1783.3L2296.3 1771.9L2298.7 1775.2L2301.1 1777.1L2303.4 1781L2305.8 1779.8L2308.2 1777.6L2310.5 1781.5L2312.9 1774.2L2315.3 1778.5L2317.6 1777.5L2320 1780.9L2322.4 1779.4L2324.7 1777.8L2327.1 1773.7L2329.4 1774.8L2331.8 1774.7L2334.2 1773.2L2336.5 1773.9L2338.9 1770.5L2341.3 1775.5L2343.6 1777.7L2346 1774.2L2348.4 1769L2350.7 1774.1L2353.1 1771.7L2355.5 1772.8L2357.8 1770.9L2360.2 1772.1L2362.6 1776L2364.9 1774.8L2367.3 1771.4L2369.7 1770.7L2372 1770.6L2374.4 1770.3L2377.7 1794.1L2379.1 1773.3L2381.5 1769.5L2383.8 1775.7L2386.2 1772.4L2388.6 1777.7L2390.9 1773.3L2393.3 1774.1L2395.7 1775.4L2398 1770.1L2400.4 1774L2402.8 1773.2L2405.1 1773.3L2407.5 1775.2L2409.9 1769.3L2412.2 1774.9L2414.6 1772.6L2417 1776.6L2419.3 1773.8" stroke="#ff141c" stroke-width="4" fill="none" stroke-linejoin="round"/><path d="M1738.2 2248h0M1740.6 2248h0M1742.9 2248h0M1745.3 2248h0M1747.7 2248h0M1750 2248h0M1752.4 2248h0M1754.8 2248h0M1757.1 2248h0M1759.5 2248h0M1761.9 2248h0M1764.2 2248h0M1766.6 2248h0M1768.9 2248h0M1771.3 2248h0M1773.7 2248h0M1776 2248h0M1778.4 2248h0M1780.8 2248h0M1783.1 2248h0M1785.5 2247.2h0M1787.9 2243.7h0M1790.2 2243.1h0M1792.6 2234.5h0M1795 2229.1h0M1797.3 2228.3h0M1799.7 2222.9h0M1802.1 2226.2h0M1804.4 2218.7h0M1806.8 2215.7h0M1809.2 2210.8h0M1811.5 2199.6h0M1813.9 2192.7h0M1816.2 2184.6h0M1818.6 2174.6h0M1821 2163.5h0M1823.3 2159.5h0M1825.7 2150h0M1828.1 2145.6h0M1830.4 2131.5h0M1832.8 2119.3h0M1835.2 2111.2h0M1837.5 2102.8h0M1839.9 2095.5h0M1842.3 2088.9h0M1844.6 2080.6h0M1847 2079.4h0M1849.4 2074.5h0M1851.7 2064.3h0M1854.1 2066.8h0M1856.5 2054.8h0M1858.8 2053.4h0M1861.2 2032.9h0M1863.5 2026.6h0M1865.9 2014.2h0M1868.3 2009.5h0M1870.6 1997.9h0M1873 1991.2h0M1875.4 1986.6h0M1877.7 1978.1h0M1880.1 1967.3h0M1882.5 1965.1h0M1884.8 1953.9h0M1887.2 1950.1h0M1889.6 1944.1h0M1891.9 1930.6h0M1894.3 1936h0M1896.7 1924h0M1899 1919.6h0M1901.4 1907.2h0M1903.8 1898.5h0M1906.1 1877.4h0M1908.5 1878.3h0M1910.8 1865.3h0M1913.2 1858.8h0M1915.6 1858.3h0M1917.9 1851h0M1920.3 1843.6h0M1922.7 1844.4h0M1925 1840.7h0M1927.4 1836.3h0M1929.8 1838.9h0M1932.1 1833.9h0M1934.5 1827.9h0M1936.9 1825h0M1939.2 1826.9h0M1941.6 1822.7h0M1944 1819.8h0M1946.3 1818h0M1948.7 1814h0M1951.1 1814.9h0M1953.4 1814.1h0M1955.8 1818.3h0M1958.1 1816.9h0M1960.5 1812.5h0M1962.9 1817.7h0M1965.2 1811.7h0M1967.6 1813.8h0M1970 1813.7h0M1972.3 1809.1h0M1974.7 1812.9h0M1977.1 1813.6h0M1979.4 1813.1h0M1981.8 1810.9h0M1984.2 1802.8h0M1986.5 1816.8h0M1988.9 1810.2h0M1991.3 1810.3h0M1993.6 1806.3h0M1996 1809.5h0M1998.4 1815h0M2000.7 1803.1h0M2003.1 1809.8h0M2005.4 1806.5h0M2007.8 1810.4h0M2010.2 1809.6h0M2012.5 1807.9h0M2014.9 1803.8h0M2017.3 1803.7h0M2019.6 1807.8h0M2022 1804.3h0M2024.4 1806.5h0M2026.7 1804.5h0M2029.1 1803.7h0M2031.5 1801.6h0M2033.8 1804.6h0M2036.2 1802.6h0M2038.6 1801.1h0M2040.9 1801h0M2043.3 1803.2h0M2045.7 1795.4h0M2048 1801.5h0M2050.4 1797.7h0M2052.7 1799.1h0M2055.1 1795.8h0M2057.5 1805.7h0M2059.8 1793h0M2062.2 1799.4h0M2064.6 1801.9h0M2066.9 1797.3h0M2069.3 1790.4h0M2071.7 1795.1h0M2074 1799.9h0M2076.4 1797.4h0M2078.8 1791.8h0M2081.1 1799.7h0M2083.5 1795.8h0M2085.9 1796.1h0M2088.2 1788.7h0M2090.6 1796h0M2093 1791.1h0M2095.3 1796.8h0M2097.7 1796.9h0M2100 1791.2h0M2102.4 1792.2h0M2104.8 1799h0M2107.1 1791.9h0M2109.5 1791.7h0M2111.9 1795h0M2114.2 1792.1h0M2116.6 1791.4h0M2119 1793.1h0M2121.3 1792.9h0M2123.7 1793h0M2126.1 1791.8h0M2128.4 1795.2h0M2130.8 1791.8h0M2133.2 1796.5h0M2135.5 1792.1h0M2137.9 1792.6h0M2140.2 1795.3h0M2142.6 1789.6h0M2145 1786.4h0M2147.3 1788.3h0M2149.7 1796.5h0M2152.1 1788.7h0M2154.4 1791.7h0M2156.8 1792.3h0M2159.2 1793.7h0M2161.5 1791.9h0M2163.9 1787.8h0M2166.3 1790.3h0M2168.6 1793h0M2171 1793.4h0M2173.4 1792.1h0M2175.7 1788.8h0M2178.1 1784.8h0M2180.5 1793.5h0M2182.8 1790.7h0M2185.2 1792h0M2187.6 1793h0M2189.9 1789.2h0M2192.3 1788h0M2194.6 1792.9h0M2197 1790.9h0M2199.4 1783.6h0M2201.7 1785.8h0M2204.1 1784.8h0M2206.5 1787.4h0M2208.8 1786.5h0M2211.2 1783.3h0M2213.6 1785.5h0M2215.9 1786.7h0M2218.3 1783.1h0M2220.7 1780.4h0M2223 1786.1h0M2225.4 1780.1h0M2227.8 1781.2h0M2230.1 1785.8h0M2232.5 1783h0M2234.8 1782.9h0M2237.2 1780.7h0M2239.6 1780.5h0M2241.9 1786.3h0M2244.3 1786.4h0M2246.7 1779.3h0M2249 1781.8h0M2251.4 1780.7h0M2253.8 1780.8h0M2256.1 1777.2h0M2258.5 1785.4h0M2260.9 1778.8h0M2263.2 1784.6h0M2265.6 1780.1h0M2268 1778.2h0M2270.3 1785.8h0M2272.7 1779.9h0M2275.1 1781.2h0M2277.4 1780.6h0M2279.8 1779.2h0M2282.2 1782.3h0M2284.5 1782.1h0M2286.9 1777.5h0M2289.2 1776.9h0M2291.6 1781h0M2294 1783.3h0M2296.3 1771.9h0M2298.7 1775.2h0M2301.1 1777.1h0M2303.4 1781h0M2305.8 1779.8h0M2308.2 1777.6h0M2310.5 1781.5h0M2312.9 1774.2h0M2315.3 1778.5h0M2317.6 1777.5h0M2320 1780.9h0M2322.4 1779.4h0M2324.7 1777.8h0M2327.1 1773.7h0M2329.4 1774.8h0M2331.8 1774.7h0M2334.2 1773.2h0M2336.5 1773.9h0M2338.9 1770.5h0M2341.3 1775.5h0M2343.6 1777.7h0M2346 1774.2h0M2348.4 1769h0M2350.7 1774.1h0M2353.1 1771.7h0M2355.5 1772.8h0M2357.8 1770.9h0M2360.2 1772.1h0M2362.6 1776h0M2364.9 1774.8h0M2367.3 1771.4h0M2369.7 1770.7h0M2372 1770.6h0M2374.4 1770.3h0M2377.7 1794.1h0M2379.1 1773.3h0M2381.5 1769.5h0M2383.8 1775.7h0M2386.2 1772.4h0M2388.6 1777.7h0M2390.9 1773.3h0M2393.3 1774.1h0M2395.7 1775.4h0M2398 1770.1h0M2400.4 1774h0M2402.8 1773.2h0M2405.1 1773.3h0M2407.5 1775.2h0M2409.9 1769.3h0M2412.2 1774.9h0M2414.6 1772.6h0M2417 1776.6h0M2419.3 1773.8h0" stroke="#ff141c" stroke-width="13.6" stroke-linecap="round" fill="none"/></g><path d="M366.8 1283v22M366.8 2275.5v-22M414.1 1283v22M414.1 2275.5v-22M461.4 1283v22M461.4 2275.5v-22M508.7 1283v22M508.7 2275.5v-22M556 1283v44M556 2275.5v-44M603.3 1283v22M603.3 2275.5v-22M650.6 1283v22M650.6 2275.5v-22M697.9 1283v22M697.9 2275.5v-22M745.2 1283v22M745.2 2275.5v-22M792.5 1283v44M792.5 2275.5v-44M839.8 1283v22M839.8 2275.5v-22M887.1 1283v22M887.1 2275.5v-22M934.4 1283v22M934.4 2275.5v-22M981.7 1283v22M981.7 2275.5v-22M319.5 2225.9h22M1029 2225.9h-22M319.5 2176.2h22M1029 2176.2h-22M319.5 2126.6h22M1029 2126.6h-22M319.5 2077h22M1029 2077h-22M319.5 2027.4h44M1029 2027.4h-44M319.5 1977.8h22M1029 1977.8h-22M319.5 1928.1h22M1029 1928.1h-22M319.5 1878.5h22M1029 1878.5h-22M319.5 1828.9h22M1029 1828.9h-22M319.5 1779.2h44M1029 1779.2h-44M319.5 1729.6h22M1029 1729.6h-22M319.5 1680h22M1029 1680h-22M319.5 1630.4h22M1029 1630.4h-22M319.5 1580.8h22M1029 1580.8h-22M319.5 1531.1h44M1029 1531.1h-44M319.5 1481.5h22M1029 1481.5h-22M319.5 1431.9h22M1029 1431.9h-22M319.5 1382.2h22M1029 1382.2h-22M319.5 1332.6h22M1029 1332.6h-22M1076 1283v22M1076 2275.5v-22M1123.3 1283v22M1123.3 2275.5v-22M1170.6 1283v22M1170.6 2275.5v-22M1217.9 1283v22M1217.9 2275.5v-22M1265.2 1283v44M1265.2 2275.5v-44M1312.5 1283v22M1312.5 2275.5v-22M1359.8 1283v22M1359.8 2275.5v-22M1407.1 1283v22M1407.1 2275.5v-22M1454.4 1283v22M1454.4 2275.5v-22M1501.7 1283v44M1501.7 2275.5v-44M1549 1283v22M1549 2275.5v-22M1596.3 1283v22M1596.3 2275.5v-22M1643.6 1283v22M1643.6 2275.5v-22M1690.9 1283v22M1690.9 2275.5v-22M1028.7 2225.9h22M1738.2 2225.9h-22M1028.7 2176.2h22M1738.2 2176.2h-22M1028.7 2126.6h22M1738.2 2126.6h-22M1028.7 2077h22M1738.2 2077h-22M1028.7 2027.4h44M1738.2 2027.4h-44M1028.7 1977.8h22M1738.2 1977.8h-22M1028.7 1928.1h22M1738.2 1928.1h-22M1028.7 1878.5h22M1738.2 1878.5h-22M1028.7 1828.9h22M1738.2 1828.9h-22M1028.7 1779.2h44M1738.2 1779.2h-44M1028.7 1729.6h22M1738.2 1729.6h-22M1028.7 1680h22M1738.2 1680h-22M1028.7 1630.4h22M1738.2 1630.4h-22M1028.7 1580.8h22M1738.2 1580.8h-22M1028.7 1531.1h44M1738.2 1531.1h-44M1028.7 1481.5h22M1738.2 1481.5h-22M1028.7 1431.9h22M1738.2 1431.9h-22M1028.7 1382.2h22M1738.2 1382.2h-22M1028.7 1332.6h22M1738.2 1332.6h-22M1785.5 1283v22M1785.5 2275.5v-22M1832.8 1283v22M1832.8 2275.5v-22M1880.1 1283v22M1880.1 2275.5v-22M1927.4 1283v22M1927.4 2275.5v-22M1974.7 1283v44M1974.7 2275.5v-44M2022 1283v22M2022 2275.5v-22M2069.3 1283v22M2069.3 2275.5v-22M2116.6 1283v22M2116.6 2275.5v-22M2163.9 1283v22M2163.9 2275.5v-22M2211.2 1283v44M2211.2 2275.5v-44M2258.5 1283v22M2258.5 2275.5v-22M2305.8 1283v22M2305.8 2275.5v-22M2353.1 1283v22M2353.1 2275.5v-22M2400.4 1283v22M2400.4 2275.5v-22M1738.2 2225.9h22M2447.7 2225.9h-22M1738.2 2176.2h22M2447.7 2176.2h-22M1738.2 2126.6h22M2447.7 2126.6h-22M1738.2 2077h22M2447.7 2077h-22M1738.2 2027.4h44M2447.7 2027.4h-44M1738.2 1977.8h22M2447.7 1977.8h-22M1738.2 1928.1h22M2447.7 1928.1h-22M1738.2 1878.5h22M2447.7 1878.5h-22M1738.2 1828.9h22M2447.7 1828.9h-22M1738.2 1779.2h44M2447.7 1779.2h-44M1738.2 1729.6h22M2447.7 1729.6h-22M1738.2 1680h22M2447.7 1680h-22M1738.2 1630.4h22M2447.7 1630.4h-22M1738.2 1580.8h22M2447.7 1580.8h-22M1738.2 1531.1h44M2447.7 1531.1h-44M1738.2 1481.5h22M2447.7 1481.5h-22M1738.2 1431.9h22M2447.7 1431.9h-22M1738.2 1382.2h22M2447.7 1382.2h-22M1738.2 1332.6h22M2447.7 1332.6h-22" stroke="#000" stroke-width="3.4" fill="none"/><rect x="319.5" y="1283" width="709.5" height="992.5" fill="none" stroke="#000" stroke-width="4"/><rect x="1028.7" y="1283" width="709.5" height="992.5" fill="none" stroke="#000" stroke-width="4"/><rect x="1738.2" y="1283" width="709.5" height="992.5" fill="none" stroke="#000" stroke-width="4"/><path d="M1028.9 1283V2275.5M1738.4 1283V2275.5" stroke="#000" stroke-width="4.8"/><text x="302.5" y="2275" text-anchor="end" dominant-baseline="central" font-size="73">0</text><text x="302.5" y="2026.9" text-anchor="end" dominant-baseline="central" font-size="73">100</text><text x="302.5" y="1778.8" text-anchor="end" dominant-baseline="central" font-size="73">200</text><text x="302.5" y="1530.6" text-anchor="end" dominant-baseline="central" font-size="73">300</text><text x="302.5" y="1282.5" text-anchor="end" dominant-baseline="central" font-size="73">400</text><text transform="translate(130 1782) rotate(-90)" text-anchor="middle">AOU</text><text x="36.2" y="1269" font-weight="bold">(b)</text><text x="319.5" y="2359" text-anchor="middle">0</text><text x="556" y="2359" text-anchor="middle">50</text><text x="792.5" y="2359" text-anchor="middle">100</text><text x="675.8" y="2462" text-anchor="middle">time (h)</text><text x="362.5" y="1408">Leu</text><text x="1048.4" y="2359" text-anchor="middle">0</text><text x="1265.2" y="2359" text-anchor="middle">50</text><text x="1501.7" y="2359" text-anchor="middle">100</text><text x="1385" y="2462" text-anchor="middle">time (h)</text><text x="1081" y="1408">Trp</text><text x="1757.9" y="2359" text-anchor="middle">0</text><text x="1974.7" y="2359" text-anchor="middle">50</text><text x="2211.2" y="2359" text-anchor="middle">100</text><text x="2094.5" y="2462" text-anchor="middle">time (h)</text><text x="1792.8" y="1408">Val</text></svg>
</body></html>
